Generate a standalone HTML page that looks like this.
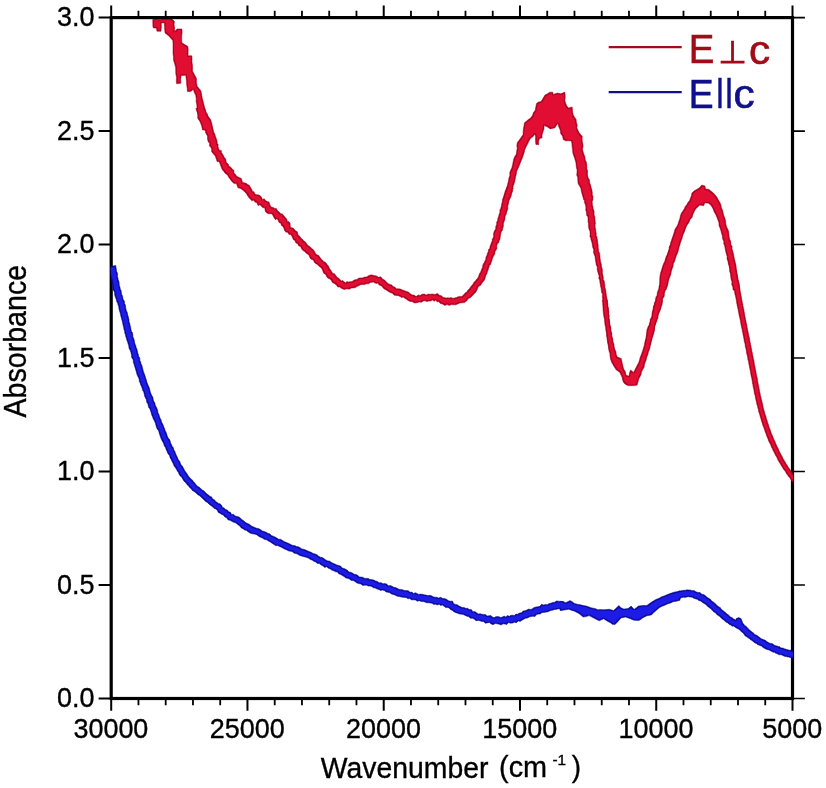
<!DOCTYPE html>
<html lang="en"><head><meta charset="utf-8"><title>Absorbance spectra</title>
<style>html,body{margin:0;padding:0;background:#fff}svg{display:block}</style>
</head><body>
<svg width="826" height="788" viewBox="0 0 826 788">
<rect width="826" height="788" fill="#fff"/>
<rect x="111.2" y="17.6" width="681.3" height="680.9" fill="none" stroke="#000" stroke-width="3.2"/>
<path d="M111.20,17.6 v-12.2 M111.20,698.5 v12.2 M247.46,17.6 v-12.2 M247.46,698.5 v12.2 M383.72,17.6 v-12.2 M383.72,698.5 v12.2 M519.98,17.6 v-12.2 M519.98,698.5 v12.2 M656.24,17.6 v-12.2 M656.24,698.5 v12.2 M792.50,17.6 v-12.2 M792.50,698.5 v12.2 M111.2,17.60 h-12.6 M111.2,131.08 h-12.6 M111.2,244.57 h-12.6 M111.2,358.05 h-12.6 M111.2,471.53 h-12.6 M111.2,585.02 h-12.6 M111.2,698.50 h-12.6" stroke="#000" stroke-width="2" fill="none"/>
<path d="M138.45,17.6 v-6.8 M138.45,698.5 v6.8 M165.70,17.6 v-6.8 M165.70,698.5 v6.8 M192.96,17.6 v-6.8 M192.96,698.5 v6.8 M220.21,17.6 v-6.8 M220.21,698.5 v6.8 M274.71,17.6 v-6.8 M274.71,698.5 v6.8 M301.96,17.6 v-6.8 M301.96,698.5 v6.8 M329.22,17.6 v-6.8 M329.22,698.5 v6.8 M356.47,17.6 v-6.8 M356.47,698.5 v6.8 M410.97,17.6 v-6.8 M410.97,698.5 v6.8 M438.22,17.6 v-6.8 M438.22,698.5 v6.8 M465.48,17.6 v-6.8 M465.48,698.5 v6.8 M492.73,17.6 v-6.8 M492.73,698.5 v6.8 M547.23,17.6 v-6.8 M547.23,698.5 v6.8 M574.48,17.6 v-6.8 M574.48,698.5 v6.8 M601.74,17.6 v-6.8 M601.74,698.5 v6.8 M628.99,17.6 v-6.8 M628.99,698.5 v6.8 M683.49,17.6 v-6.8 M683.49,698.5 v6.8 M710.74,17.6 v-6.8 M710.74,698.5 v6.8 M738.00,17.6 v-6.8 M738.00,698.5 v6.8 M765.25,17.6 v-6.8 M765.25,698.5 v6.8" stroke="#000" stroke-width="1.8" fill="none"/>
<path d="M792.5,17.60 h12.4 M792.5,131.08 h12.4 M792.5,244.57 h12.4 M792.5,358.05 h12.4 M792.5,471.53 h12.4 M792.5,585.02 h12.4 M792.5,698.50 h12.4" stroke="#000" stroke-width="1.6" fill="none"/>
<clipPath id="cp"><rect x="110.60000000000001" y="19.1" width="682.5" height="680.9"/></clipPath>
<filter id="er" x="0" y="0" width="826" height="788" filterUnits="userSpaceOnUse"><feMorphology operator="erode" radius="1"/><feGaussianBlur stdDeviation="0.45"/></filter>
<g clip-path="url(#cp)" stroke-linejoin="round">
<g fill="#0a0a98" stroke="#0a0a98" stroke-width="0.5"><path d="M108.6,266.9 L109.0,268.6 L109.4,270.1 L110.0,272.5 L110.0,273.6 L110.2,275.4 L110.8,277.9 L111.2,279.0 L111.7,281.0 L112.0,283.1 L112.3,285.1 L112.8,287.1 L112.9,289.5 L113.8,290.9 L114.5,292.3 L114.6,294.4 L115.2,296.8 L115.7,297.9 L116.5,300.4 L116.8,301.9 L117.6,303.1 L118.2,305.6 L118.7,306.6 L118.9,308.6 L119.3,310.4 L120.1,312.7 L120.4,314.1 L120.9,316.5 L121.3,317.7 L121.9,320.0 L122.3,321.4 L122.7,323.4 L123.0,325.0 L123.6,327.3 L124.0,329.6 L124.6,331.3 L124.8,333.3 L125.3,334.3 L125.7,336.2 L126.4,338.4 L126.7,339.7 L127.6,342.2 L128.1,344.0 L128.8,345.9 L128.9,347.7 L129.4,349.2 L130.3,350.6 L130.9,352.5 L131.5,354.9 L131.6,357.2 L132.4,358.8 L133.2,359.8 L133.3,362.5 L134.1,364.2 L134.4,365.8 L135.1,367.8 L135.7,369.9 L136.4,371.9 L136.8,373.9 L137.4,375.6 L138.3,377.3 L139.1,379.1 L139.3,381.5 L140.0,382.7 L140.6,384.7 L141.6,386.8 L142.2,388.5 L142.7,390.5 L143.7,392.0 L144.3,394.4 L144.8,396.7 L145.7,398.5 L146.3,399.6 L146.8,402.4 L147.8,403.7 L148.2,405.6 L148.8,407.7 L149.8,408.8 L150.5,410.7 L151.2,412.9 L151.8,415.3 L152.3,416.2 L153.2,418.7 L154.2,420.6 L154.9,422.1 L155.5,423.7 L156.1,426.0 L156.7,428.0 L157.7,429.7 L158.6,430.8 L159.2,433.2 L159.7,434.7 L160.4,436.8 L161.1,438.8 L162.0,440.7 L162.8,441.9 L163.7,443.7 L164.3,446.0 L165.5,447.5 L166.1,449.5 L166.7,450.7 L167.7,453.2 L168.4,454.2 L169.6,455.8 L170.1,457.9 L170.9,459.0 L172.0,461.4 L172.9,463.0 L173.5,464.5 L174.2,466.3 L175.6,468.0 L176.4,469.3 L177.3,471.1 L178.4,472.5 L179.2,474.5 L180.2,476.1 L181.6,477.1 L182.5,478.7 L183.7,480.7 L184.8,482.0 L186.2,483.2 L187.0,484.7 L188.4,485.8 L189.6,487.5 L191.1,488.7 L192.3,490.4 L194.0,491.4 L195.1,492.2 L196.5,493.5 L198.1,494.9 L199.6,495.7 L201.2,497.3 L202.9,498.7 L204.3,500.3 L205.8,501.7 L207.1,502.2 L208.7,503.9 L210.1,505.0 L211.5,506.1 L212.9,507.1 L214.2,508.5 L215.6,508.9 L217.1,509.9 L218.3,512.5 L219.9,513.2 L221.7,514.4 L223.3,515.0 L224.8,516.9 L226.6,517.7 L228.2,520.1 L230.1,520.2 L232.1,521.6 L233.8,522.3 L235.3,522.8 L236.8,523.8 L238.3,525.0 L239.8,526.1 L241.2,527.9 L242.9,528.7 L244.6,529.9 L246.5,530.6 L248.4,532.1 L250.4,533.2 L252.3,533.8 L254.3,534.1 L256.1,534.4 L257.7,535.6 L259.3,536.8 L261.1,537.4 L262.7,538.3 L264.6,539.6 L266.5,539.8 L268.4,541.0 L270.2,541.9 L272.0,543.2 L273.9,544.4 L275.8,545.7 L277.6,545.4 L279.4,546.4 L281.3,547.3 L283.1,548.3 L284.9,549.2 L286.8,549.9 L288.7,551.0 L290.6,551.3 L292.4,551.8 L294.1,553.3 L296.0,553.6 L297.8,554.3 L299.6,555.4 L301.4,556.0 L303.2,556.6 L305.1,557.0 L306.9,557.5 L308.7,558.3 L310.3,559.4 L312.1,560.1 L313.7,561.2 L315.7,562.0 L317.3,563.4 L319.3,563.5 L321.0,564.9 L323.0,565.9 L324.7,567.4 L326.7,566.8 L328.4,568.3 L330.3,569.0 L332.0,570.3 L333.8,570.8 L335.5,571.8 L337.4,572.1 L338.9,573.9 L340.7,574.4 L342.2,575.5 L344.0,576.4 L345.8,578.0 L347.4,578.3 L349.4,579.0 L351.3,580.5 L353.2,580.6 L355.0,581.5 L356.9,583.0 L358.8,583.6 L360.8,584.0 L362.8,585.5 L364.7,585.2 L366.6,585.2 L368.3,586.1 L370.0,586.1 L371.7,586.6 L373.4,587.8 L375.2,588.0 L377.0,589.0 L378.8,589.4 L380.6,590.6 L382.4,590.1 L384.3,590.6 L386.2,592.1 L387.9,592.3 L389.8,592.8 L391.5,594.0 L393.3,594.6 L395.3,595.2 L397.2,596.2 L399.2,596.6 L401.0,597.0 L402.8,597.3 L404.4,597.5 L406.2,597.4 L407.9,598.8 L409.7,598.6 L411.7,599.9 L413.5,599.8 L415.5,600.0 L417.3,601.3 L419.3,600.7 L421.1,601.5 L423.0,601.5 L424.8,602.0 L426.6,602.8 L428.4,602.8 L430.2,603.0 L432.0,603.3 L433.8,604.5 L435.6,604.2 L437.4,605.0 L439.1,604.2 L440.7,605.6 L442.4,605.1 L444.0,606.2 L445.6,607.4 L447.5,607.6 L448.9,607.9 L450.8,609.7 L452.5,610.5 L453.8,611.7 L455.9,612.7 L457.6,613.3 L459.7,614.1 L461.6,614.2 L463.4,614.6 L465.2,615.4 L466.9,616.2 L468.8,616.7 L470.5,618.3 L472.3,618.2 L474.2,619.0 L476.0,620.8 L478.0,620.4 L479.9,620.8 L481.7,621.4 L483.5,621.6 L485.4,623.3 L487.2,622.9 L489.2,622.4 L491.2,623.9 L493.1,624.8 L495.2,623.5 L497.2,623.8 L499.1,624.2 L501.1,625.1 L503.0,623.8 L504.9,624.0 L506.8,624.5 L508.6,622.6 L510.5,623.2 L512.6,623.1 L514.4,622.3 L516.5,622.7 L518.3,620.9 L520.3,621.4 L522.0,620.2 L523.8,619.2 L525.6,618.2 L527.5,618.1 L529.1,617.1 L531.3,616.5 L533.0,616.3 L535.0,616.6 L536.6,614.6 L538.6,614.1 L540.3,614.0 L541.8,612.7 L543.7,612.4 L545.3,612.2 L547.0,612.0 L548.8,611.4 L550.6,610.5 L552.5,610.3 L554.5,609.6 L556.1,609.4 L557.8,608.9 L559.2,608.8 L560.9,609.6 L562.6,609.7 L563.4,601.4 L561.1,601.5 L558.9,601.2 L556.6,600.9 L554.5,602.2 L552.6,602.4 L550.8,603.2 L549.1,603.6 L547.3,604.7 L545.4,604.6 L543.5,604.9 L541.5,604.3 L539.8,606.3 L537.9,606.8 L536.0,606.9 L534.0,607.6 L532.1,608.9 L530.5,609.4 L528.7,609.1 L526.8,609.9 L525.1,610.8 L523.2,610.9 L521.5,612.7 L519.4,613.1 L517.6,614.2 L515.9,614.0 L514.3,615.6 L512.6,615.2 L510.9,615.3 L509.3,616.3 L507.6,615.5 L505.8,616.9 L504.1,616.1 L502.5,616.9 L500.7,617.5 L499.0,616.7 L497.3,616.5 L495.6,616.8 L494.0,617.8 L492.4,617.0 L490.8,615.4 L488.9,615.8 L487.3,615.9 L485.4,614.5 L483.6,614.4 L481.9,614.2 L480.2,613.7 L478.4,613.9 L476.6,612.7 L474.8,611.4 L472.9,611.7 L471.3,609.5 L469.2,609.5 L467.6,608.3 L465.6,608.3 L464.0,607.4 L462.2,607.6 L460.4,606.6 L459.0,606.1 L457.3,604.8 L455.7,604.4 L453.9,603.9 L452.4,601.0 L450.5,601.2 L448.5,600.7 L446.6,599.3 L444.6,598.6 L442.7,598.5 L440.7,597.3 L438.7,598.1 L436.8,597.2 L435.0,597.3 L433.2,596.7 L431.5,595.7 L429.6,595.3 L427.8,595.6 L425.9,595.0 L424.1,594.8 L422.3,594.3 L420.5,594.1 L418.7,594.4 L417.0,593.4 L415.4,592.7 L413.6,593.5 L411.9,592.1 L410.1,592.3 L408.3,590.7 L406.3,590.6 L404.3,590.4 L402.5,589.7 L400.7,589.4 L398.9,589.2 L397.3,588.3 L395.6,587.6 L393.8,587.3 L392.1,586.2 L390.3,585.5 L388.4,585.7 L386.6,584.1 L384.8,583.4 L383.0,583.7 L381.1,582.7 L379.2,582.8 L377.5,581.5 L375.7,581.0 L373.8,580.1 L371.8,579.6 L369.9,579.6 L368.0,578.3 L366.1,578.4 L364.4,578.3 L362.7,577.2 L361.1,577.1 L359.3,576.9 L357.7,575.2 L356.0,574.5 L354.2,574.3 L352.4,572.9 L350.6,572.2 L349.0,572.1 L347.4,570.3 L345.8,569.3 L344.1,568.5 L342.2,568.0 L340.6,566.1 L338.8,565.5 L336.8,564.9 L335.0,564.1 L333.1,563.3 L331.2,562.3 L329.4,561.0 L327.8,560.9 L325.9,560.1 L324.2,558.8 L322.4,557.6 L320.6,557.2 L318.7,556.3 L317.0,554.7 L315.1,553.9 L313.1,553.4 L311.2,552.3 L309.2,551.6 L307.4,550.8 L305.6,549.9 L303.8,549.3 L301.9,548.9 L300.1,547.7 L298.4,546.8 L296.6,546.6 L294.8,545.6 L293.0,545.4 L291.3,544.8 L289.5,543.8 L287.8,543.1 L286.1,542.3 L284.1,541.5 L282.2,540.3 L280.5,539.2 L278.7,539.3 L276.9,538.1 L275.1,537.0 L273.2,536.2 L271.4,535.4 L269.8,533.8 L268.1,533.4 L266.2,532.2 L264.3,531.5 L262.4,530.9 L260.4,529.6 L258.5,528.6 L256.6,528.2 L254.9,527.5 L253.2,526.8 L251.4,526.0 L249.8,524.4 L248.1,523.7 L246.5,523.0 L245.1,522.1 L243.7,520.7 L242.0,519.8 L240.6,518.2 L239.0,516.9 L237.1,516.5 L235.2,515.9 L233.5,514.2 L231.7,514.5 L230.4,512.2 L228.7,511.7 L227.3,509.9 L225.5,509.5 L224.2,507.9 L222.6,507.4 L221.4,504.9 L220.0,503.8 L218.6,503.4 L216.9,502.3 L215.5,501.2 L214.4,499.8 L212.7,498.9 L211.5,496.8 L210.1,496.4 L208.5,495.1 L206.8,493.8 L205.3,492.3 L203.8,490.8 L202.3,490.0 L200.7,488.6 L199.4,487.2 L198.1,486.7 L196.8,485.4 L195.5,484.1 L194.6,482.7 L193.2,481.5 L192.5,480.1 L191.2,479.2 L190.1,477.9 L189.0,476.7 L187.7,474.9 L186.9,473.4 L185.9,472.2 L184.8,470.8 L183.9,469.0 L183.1,467.4 L182.2,465.8 L181.1,464.9 L180.3,463.0 L179.7,461.2 L178.5,460.0 L177.8,458.4 L176.8,456.0 L176.2,454.9 L175.4,453.0 L174.8,451.2 L174.0,450.2 L173.3,447.6 L172.4,446.7 L171.6,444.7 L170.7,443.2 L170.1,440.8 L169.3,439.1 L168.1,438.0 L167.3,436.1 L166.7,434.1 L166.0,432.0 L165.2,430.7 L164.5,428.3 L163.8,427.1 L163.3,425.2 L162.4,423.5 L161.4,421.4 L161.1,419.7 L160.1,418.3 L159.5,416.3 L158.6,413.8 L158.0,413.0 L157.7,410.4 L156.9,408.3 L156.0,406.5 L155.3,405.3 L154.9,403.1 L153.9,401.5 L153.3,399.9 L152.9,397.2 L152.1,396.1 L151.3,394.3 L150.4,392.2 L149.8,389.8 L149.4,388.0 L148.6,386.2 L147.9,384.6 L147.0,382.5 L146.6,380.5 L146.1,379.3 L145.4,377.0 L144.8,375.1 L144.2,373.4 L143.5,371.7 L143.0,369.8 L142.5,367.8 L142.0,365.7 L141.0,363.8 L140.8,362.2 L139.9,360.5 L139.8,357.8 L138.8,356.8 L138.5,355.1 L137.8,353.0 L137.3,350.6 L136.8,348.7 L136.1,347.2 L135.8,345.6 L135.0,344.0 L134.5,342.1 L134.3,340.3 L133.4,337.8 L132.9,336.7 L132.8,334.3 L132.4,332.5 L131.5,331.5 L131.0,329.7 L130.8,327.9 L130.2,325.7 L129.7,323.3 L129.1,321.8 L129.0,319.7 L128.7,318.3 L128.1,316.0 L127.7,314.8 L127.3,312.4 L126.5,311.1 L125.9,308.8 L125.6,306.9 L125.4,304.9 L124.6,303.8 L124.4,301.1 L123.5,300.0 L122.9,298.5 L122.5,295.8 L121.8,294.9 L121.4,292.4 L121.1,290.4 L120.3,289.2 L120.1,287.7 L119.4,285.6 L119.2,283.6 L119.0,281.7 L118.2,279.7 L117.9,277.7 L117.5,276.5 L117.6,273.9 L117.1,272.2 L116.5,271.2 L116.3,268.7 L115.9,267.2 L115.8,265.4Z"/><path d="M560.0,601.3 L563.1,601.7 L565.9,602.7 L570.0,600.6 L572.2,601.7 L574.5,603.4 L577.2,604.2 L580.5,604.8 L583.5,605.6 L586.3,606.1 L589.0,606.9 L591.8,607.9 L595.0,608.5 L597.8,609.8 L600.5,609.6 L603.6,609.7 L606.5,609.5 L609.3,609.3 L613.6,610.5 L616.8,607.6 L618.8,605.5 L621.0,607.7 L623.9,609.1 L628.1,608.5 L631.1,606.1 L634.1,609.3 L636.4,607.7 L638.4,606.1 L642.9,605.5 L647.0,605.4 L649.1,603.8 L651.7,602.0 L655.8,599.6 L659.1,598.2 L661.6,596.8 L664.7,595.7 L667.5,594.5 L670.4,593.5 L673.4,592.4 L676.6,591.9 L679.9,590.8 L679.9,594.1 L680.2,597.2 L680.0,600.3 L676.3,601.3 L673.2,601.7 L670.6,603.0 L667.3,604.1 L664.4,605.4 L661.6,606.4 L658.9,608.1 L655.9,610.8 L653.8,612.5 L651.5,614.9 L647.0,615.7 L642.9,617.8 L640.7,619.6 L638.6,620.6 L633.9,620.2 L629.7,618.5 L625.5,617.1 L621.1,617.9 L618.0,621.5 L615.1,624.5 L612.2,624.3 L610.4,622.8 L607.9,621.5 L605.4,619.9 L603.7,618.8 L599.2,620.8 L594.7,618.6 L591.9,617.1 L589.0,615.6 L586.4,616.6 L583.2,617.0 L580.8,615.0 L578.8,613.5 L574.5,611.2 L571.9,610.4 L568.8,609.3 L564.3,610.0 L560.2,610.7 L559.7,607.7 L560.3,604.0Z"/><path d="M669.5,602.1 L670.7,601.8 L672.0,600.6 L673.4,600.1 L674.7,599.7 L676.0,599.2 L677.4,598.7 L678.6,598.9 L679.8,598.6 L680.9,598.1 L682.1,597.6 L683.3,597.2 L684.6,597.6 L685.9,597.3 L687.1,596.9 L688.3,596.7 L689.4,597.0 L690.6,597.1 L691.7,597.2 L692.8,597.5 L693.9,598.4 L695.0,598.6 L696.1,599.2 L697.2,599.0 L698.3,600.3 L699.5,600.7 L700.5,601.0 L701.8,601.9 L702.9,602.7 L704.0,603.5 L705.0,604.0 L706.2,604.7 L707.1,606.0 L708.1,606.7 L709.0,607.5 L710.3,608.4 L711.3,609.2 L712.4,610.6 L713.2,611.5 L714.4,612.3 L715.4,612.8 L716.6,614.3 L717.6,615.3 L718.7,615.8 L719.7,616.6 L720.8,617.6 L721.9,618.7 L722.9,619.4 L724.0,620.3 L725.0,621.2 L726.2,622.3 L727.4,622.7 L728.4,623.7 L729.7,624.8 L730.8,625.1 L732.1,626.3 L733.5,626.1 L734.8,627.0 L736.0,627.8 L737.2,628.6 L738.2,629.0 L739.2,629.5 L740.2,630.4 L740.9,631.2 L741.8,632.2 L743.1,632.9 L744.2,634.5 L745.1,635.9 L746.3,636.5 L747.5,637.6 L748.7,638.1 L749.9,639.3 L751.2,640.1 L752.5,640.9 L753.7,641.9 L754.9,642.9 L756.4,643.5 L757.6,644.7 L758.9,645.0 L760.3,645.7 L761.5,646.1 L762.7,647.2 L764.0,648.1 L765.3,648.8 L766.7,649.4 L767.9,649.7 L769.2,650.1 L770.6,650.9 L771.9,651.5 L773.1,652.3 L774.5,652.3 L775.7,653.3 L777.0,653.5 L778.3,654.5 L779.7,654.8 L781.0,654.7 L782.4,655.3 L783.6,655.9 L784.9,656.4 L786.2,656.5 L787.5,657.1 L788.7,657.0 L790.0,657.5 L791.3,657.7 L792.5,658.4 L793.9,658.3 L795.2,658.2 L796.7,651.6 L795.5,651.3 L794.2,651.4 L792.9,650.8 L791.6,650.9 L790.5,650.0 L789.2,650.2 L787.9,649.7 L786.8,649.5 L785.5,649.0 L784.3,648.7 L783.1,648.0 L781.9,648.1 L780.7,647.7 L779.5,646.6 L778.3,646.5 L777.0,645.9 L775.8,645.7 L774.5,645.2 L773.4,644.5 L772.2,643.6 L770.9,643.4 L769.8,643.2 L768.5,642.6 L767.2,641.8 L766.1,640.9 L764.9,640.1 L763.7,639.7 L762.3,639.0 L761.1,638.7 L759.9,637.6 L758.7,636.7 L757.5,635.7 L756.3,635.0 L755.0,634.7 L754.1,633.7 L753.1,632.5 L752.0,632.2 L751.1,631.1 L750.1,630.6 L749.1,629.6 L747.9,628.3 L747.0,627.3 L746.0,626.2 L744.7,625.4 L743.5,623.8 L741.9,622.9 L740.5,622.1 L738.9,621.4 L737.7,620.6 L736.6,619.8 L735.3,620.2 L734.3,619.0 L733.3,619.0 L732.4,617.7 L731.2,617.3 L730.3,616.9 L729.2,615.6 L728.3,614.9 L727.3,613.9 L726.4,613.4 L725.3,612.3 L724.1,611.5 L723.1,610.6 L722.2,610.0 L721.2,609.0 L720.2,607.4 L718.9,607.1 L718.0,606.1 L716.9,605.5 L715.8,604.0 L714.8,603.2 L713.7,602.2 L712.6,601.6 L711.5,600.8 L710.6,599.4 L709.3,598.6 L708.1,598.0 L706.9,597.0 L705.6,596.1 L704.3,594.8 L702.9,594.5 L701.4,594.0 L700.1,592.5 L698.7,592.5 L697.2,592.3 L695.9,591.7 L694.5,590.8 L693.0,590.6 L691.6,590.4 L690.2,590.0 L688.7,589.9 L687.1,589.8 L685.5,590.2 L683.8,590.3 L682.3,590.6 L680.8,590.8 L679.3,591.2 L677.9,591.9 L676.5,592.0 L675.0,591.9 L673.6,593.0 L672.1,593.1 L670.7,593.8 L669.3,594.2 L668.0,595.6 L666.5,595.5Z"/><path d="M735.2,622.0 L736.2,618.6 L738.6,617.6 L741.0,618.6 L742.4,622.0 L743.5,628.0 L738.0,626.0Z"/></g>
<g fill="#1c1ce6" filter="url(#er)"><path d="M108.6,266.9 L109.0,268.6 L109.4,270.1 L110.0,272.5 L110.0,273.6 L110.2,275.4 L110.8,277.9 L111.2,279.0 L111.7,281.0 L112.0,283.1 L112.3,285.1 L112.8,287.1 L112.9,289.5 L113.8,290.9 L114.5,292.3 L114.6,294.4 L115.2,296.8 L115.7,297.9 L116.5,300.4 L116.8,301.9 L117.6,303.1 L118.2,305.6 L118.7,306.6 L118.9,308.6 L119.3,310.4 L120.1,312.7 L120.4,314.1 L120.9,316.5 L121.3,317.7 L121.9,320.0 L122.3,321.4 L122.7,323.4 L123.0,325.0 L123.6,327.3 L124.0,329.6 L124.6,331.3 L124.8,333.3 L125.3,334.3 L125.7,336.2 L126.4,338.4 L126.7,339.7 L127.6,342.2 L128.1,344.0 L128.8,345.9 L128.9,347.7 L129.4,349.2 L130.3,350.6 L130.9,352.5 L131.5,354.9 L131.6,357.2 L132.4,358.8 L133.2,359.8 L133.3,362.5 L134.1,364.2 L134.4,365.8 L135.1,367.8 L135.7,369.9 L136.4,371.9 L136.8,373.9 L137.4,375.6 L138.3,377.3 L139.1,379.1 L139.3,381.5 L140.0,382.7 L140.6,384.7 L141.6,386.8 L142.2,388.5 L142.7,390.5 L143.7,392.0 L144.3,394.4 L144.8,396.7 L145.7,398.5 L146.3,399.6 L146.8,402.4 L147.8,403.7 L148.2,405.6 L148.8,407.7 L149.8,408.8 L150.5,410.7 L151.2,412.9 L151.8,415.3 L152.3,416.2 L153.2,418.7 L154.2,420.6 L154.9,422.1 L155.5,423.7 L156.1,426.0 L156.7,428.0 L157.7,429.7 L158.6,430.8 L159.2,433.2 L159.7,434.7 L160.4,436.8 L161.1,438.8 L162.0,440.7 L162.8,441.9 L163.7,443.7 L164.3,446.0 L165.5,447.5 L166.1,449.5 L166.7,450.7 L167.7,453.2 L168.4,454.2 L169.6,455.8 L170.1,457.9 L170.9,459.0 L172.0,461.4 L172.9,463.0 L173.5,464.5 L174.2,466.3 L175.6,468.0 L176.4,469.3 L177.3,471.1 L178.4,472.5 L179.2,474.5 L180.2,476.1 L181.6,477.1 L182.5,478.7 L183.7,480.7 L184.8,482.0 L186.2,483.2 L187.0,484.7 L188.4,485.8 L189.6,487.5 L191.1,488.7 L192.3,490.4 L194.0,491.4 L195.1,492.2 L196.5,493.5 L198.1,494.9 L199.6,495.7 L201.2,497.3 L202.9,498.7 L204.3,500.3 L205.8,501.7 L207.1,502.2 L208.7,503.9 L210.1,505.0 L211.5,506.1 L212.9,507.1 L214.2,508.5 L215.6,508.9 L217.1,509.9 L218.3,512.5 L219.9,513.2 L221.7,514.4 L223.3,515.0 L224.8,516.9 L226.6,517.7 L228.2,520.1 L230.1,520.2 L232.1,521.6 L233.8,522.3 L235.3,522.8 L236.8,523.8 L238.3,525.0 L239.8,526.1 L241.2,527.9 L242.9,528.7 L244.6,529.9 L246.5,530.6 L248.4,532.1 L250.4,533.2 L252.3,533.8 L254.3,534.1 L256.1,534.4 L257.7,535.6 L259.3,536.8 L261.1,537.4 L262.7,538.3 L264.6,539.6 L266.5,539.8 L268.4,541.0 L270.2,541.9 L272.0,543.2 L273.9,544.4 L275.8,545.7 L277.6,545.4 L279.4,546.4 L281.3,547.3 L283.1,548.3 L284.9,549.2 L286.8,549.9 L288.7,551.0 L290.6,551.3 L292.4,551.8 L294.1,553.3 L296.0,553.6 L297.8,554.3 L299.6,555.4 L301.4,556.0 L303.2,556.6 L305.1,557.0 L306.9,557.5 L308.7,558.3 L310.3,559.4 L312.1,560.1 L313.7,561.2 L315.7,562.0 L317.3,563.4 L319.3,563.5 L321.0,564.9 L323.0,565.9 L324.7,567.4 L326.7,566.8 L328.4,568.3 L330.3,569.0 L332.0,570.3 L333.8,570.8 L335.5,571.8 L337.4,572.1 L338.9,573.9 L340.7,574.4 L342.2,575.5 L344.0,576.4 L345.8,578.0 L347.4,578.3 L349.4,579.0 L351.3,580.5 L353.2,580.6 L355.0,581.5 L356.9,583.0 L358.8,583.6 L360.8,584.0 L362.8,585.5 L364.7,585.2 L366.6,585.2 L368.3,586.1 L370.0,586.1 L371.7,586.6 L373.4,587.8 L375.2,588.0 L377.0,589.0 L378.8,589.4 L380.6,590.6 L382.4,590.1 L384.3,590.6 L386.2,592.1 L387.9,592.3 L389.8,592.8 L391.5,594.0 L393.3,594.6 L395.3,595.2 L397.2,596.2 L399.2,596.6 L401.0,597.0 L402.8,597.3 L404.4,597.5 L406.2,597.4 L407.9,598.8 L409.7,598.6 L411.7,599.9 L413.5,599.8 L415.5,600.0 L417.3,601.3 L419.3,600.7 L421.1,601.5 L423.0,601.5 L424.8,602.0 L426.6,602.8 L428.4,602.8 L430.2,603.0 L432.0,603.3 L433.8,604.5 L435.6,604.2 L437.4,605.0 L439.1,604.2 L440.7,605.6 L442.4,605.1 L444.0,606.2 L445.6,607.4 L447.5,607.6 L448.9,607.9 L450.8,609.7 L452.5,610.5 L453.8,611.7 L455.9,612.7 L457.6,613.3 L459.7,614.1 L461.6,614.2 L463.4,614.6 L465.2,615.4 L466.9,616.2 L468.8,616.7 L470.5,618.3 L472.3,618.2 L474.2,619.0 L476.0,620.8 L478.0,620.4 L479.9,620.8 L481.7,621.4 L483.5,621.6 L485.4,623.3 L487.2,622.9 L489.2,622.4 L491.2,623.9 L493.1,624.8 L495.2,623.5 L497.2,623.8 L499.1,624.2 L501.1,625.1 L503.0,623.8 L504.9,624.0 L506.8,624.5 L508.6,622.6 L510.5,623.2 L512.6,623.1 L514.4,622.3 L516.5,622.7 L518.3,620.9 L520.3,621.4 L522.0,620.2 L523.8,619.2 L525.6,618.2 L527.5,618.1 L529.1,617.1 L531.3,616.5 L533.0,616.3 L535.0,616.6 L536.6,614.6 L538.6,614.1 L540.3,614.0 L541.8,612.7 L543.7,612.4 L545.3,612.2 L547.0,612.0 L548.8,611.4 L550.6,610.5 L552.5,610.3 L554.5,609.6 L556.1,609.4 L557.8,608.9 L559.2,608.8 L560.9,609.6 L562.6,609.7 L563.4,601.4 L561.1,601.5 L558.9,601.2 L556.6,600.9 L554.5,602.2 L552.6,602.4 L550.8,603.2 L549.1,603.6 L547.3,604.7 L545.4,604.6 L543.5,604.9 L541.5,604.3 L539.8,606.3 L537.9,606.8 L536.0,606.9 L534.0,607.6 L532.1,608.9 L530.5,609.4 L528.7,609.1 L526.8,609.9 L525.1,610.8 L523.2,610.9 L521.5,612.7 L519.4,613.1 L517.6,614.2 L515.9,614.0 L514.3,615.6 L512.6,615.2 L510.9,615.3 L509.3,616.3 L507.6,615.5 L505.8,616.9 L504.1,616.1 L502.5,616.9 L500.7,617.5 L499.0,616.7 L497.3,616.5 L495.6,616.8 L494.0,617.8 L492.4,617.0 L490.8,615.4 L488.9,615.8 L487.3,615.9 L485.4,614.5 L483.6,614.4 L481.9,614.2 L480.2,613.7 L478.4,613.9 L476.6,612.7 L474.8,611.4 L472.9,611.7 L471.3,609.5 L469.2,609.5 L467.6,608.3 L465.6,608.3 L464.0,607.4 L462.2,607.6 L460.4,606.6 L459.0,606.1 L457.3,604.8 L455.7,604.4 L453.9,603.9 L452.4,601.0 L450.5,601.2 L448.5,600.7 L446.6,599.3 L444.6,598.6 L442.7,598.5 L440.7,597.3 L438.7,598.1 L436.8,597.2 L435.0,597.3 L433.2,596.7 L431.5,595.7 L429.6,595.3 L427.8,595.6 L425.9,595.0 L424.1,594.8 L422.3,594.3 L420.5,594.1 L418.7,594.4 L417.0,593.4 L415.4,592.7 L413.6,593.5 L411.9,592.1 L410.1,592.3 L408.3,590.7 L406.3,590.6 L404.3,590.4 L402.5,589.7 L400.7,589.4 L398.9,589.2 L397.3,588.3 L395.6,587.6 L393.8,587.3 L392.1,586.2 L390.3,585.5 L388.4,585.7 L386.6,584.1 L384.8,583.4 L383.0,583.7 L381.1,582.7 L379.2,582.8 L377.5,581.5 L375.7,581.0 L373.8,580.1 L371.8,579.6 L369.9,579.6 L368.0,578.3 L366.1,578.4 L364.4,578.3 L362.7,577.2 L361.1,577.1 L359.3,576.9 L357.7,575.2 L356.0,574.5 L354.2,574.3 L352.4,572.9 L350.6,572.2 L349.0,572.1 L347.4,570.3 L345.8,569.3 L344.1,568.5 L342.2,568.0 L340.6,566.1 L338.8,565.5 L336.8,564.9 L335.0,564.1 L333.1,563.3 L331.2,562.3 L329.4,561.0 L327.8,560.9 L325.9,560.1 L324.2,558.8 L322.4,557.6 L320.6,557.2 L318.7,556.3 L317.0,554.7 L315.1,553.9 L313.1,553.4 L311.2,552.3 L309.2,551.6 L307.4,550.8 L305.6,549.9 L303.8,549.3 L301.9,548.9 L300.1,547.7 L298.4,546.8 L296.6,546.6 L294.8,545.6 L293.0,545.4 L291.3,544.8 L289.5,543.8 L287.8,543.1 L286.1,542.3 L284.1,541.5 L282.2,540.3 L280.5,539.2 L278.7,539.3 L276.9,538.1 L275.1,537.0 L273.2,536.2 L271.4,535.4 L269.8,533.8 L268.1,533.4 L266.2,532.2 L264.3,531.5 L262.4,530.9 L260.4,529.6 L258.5,528.6 L256.6,528.2 L254.9,527.5 L253.2,526.8 L251.4,526.0 L249.8,524.4 L248.1,523.7 L246.5,523.0 L245.1,522.1 L243.7,520.7 L242.0,519.8 L240.6,518.2 L239.0,516.9 L237.1,516.5 L235.2,515.9 L233.5,514.2 L231.7,514.5 L230.4,512.2 L228.7,511.7 L227.3,509.9 L225.5,509.5 L224.2,507.9 L222.6,507.4 L221.4,504.9 L220.0,503.8 L218.6,503.4 L216.9,502.3 L215.5,501.2 L214.4,499.8 L212.7,498.9 L211.5,496.8 L210.1,496.4 L208.5,495.1 L206.8,493.8 L205.3,492.3 L203.8,490.8 L202.3,490.0 L200.7,488.6 L199.4,487.2 L198.1,486.7 L196.8,485.4 L195.5,484.1 L194.6,482.7 L193.2,481.5 L192.5,480.1 L191.2,479.2 L190.1,477.9 L189.0,476.7 L187.7,474.9 L186.9,473.4 L185.9,472.2 L184.8,470.8 L183.9,469.0 L183.1,467.4 L182.2,465.8 L181.1,464.9 L180.3,463.0 L179.7,461.2 L178.5,460.0 L177.8,458.4 L176.8,456.0 L176.2,454.9 L175.4,453.0 L174.8,451.2 L174.0,450.2 L173.3,447.6 L172.4,446.7 L171.6,444.7 L170.7,443.2 L170.1,440.8 L169.3,439.1 L168.1,438.0 L167.3,436.1 L166.7,434.1 L166.0,432.0 L165.2,430.7 L164.5,428.3 L163.8,427.1 L163.3,425.2 L162.4,423.5 L161.4,421.4 L161.1,419.7 L160.1,418.3 L159.5,416.3 L158.6,413.8 L158.0,413.0 L157.7,410.4 L156.9,408.3 L156.0,406.5 L155.3,405.3 L154.9,403.1 L153.9,401.5 L153.3,399.9 L152.9,397.2 L152.1,396.1 L151.3,394.3 L150.4,392.2 L149.8,389.8 L149.4,388.0 L148.6,386.2 L147.9,384.6 L147.0,382.5 L146.6,380.5 L146.1,379.3 L145.4,377.0 L144.8,375.1 L144.2,373.4 L143.5,371.7 L143.0,369.8 L142.5,367.8 L142.0,365.7 L141.0,363.8 L140.8,362.2 L139.9,360.5 L139.8,357.8 L138.8,356.8 L138.5,355.1 L137.8,353.0 L137.3,350.6 L136.8,348.7 L136.1,347.2 L135.8,345.6 L135.0,344.0 L134.5,342.1 L134.3,340.3 L133.4,337.8 L132.9,336.7 L132.8,334.3 L132.4,332.5 L131.5,331.5 L131.0,329.7 L130.8,327.9 L130.2,325.7 L129.7,323.3 L129.1,321.8 L129.0,319.7 L128.7,318.3 L128.1,316.0 L127.7,314.8 L127.3,312.4 L126.5,311.1 L125.9,308.8 L125.6,306.9 L125.4,304.9 L124.6,303.8 L124.4,301.1 L123.5,300.0 L122.9,298.5 L122.5,295.8 L121.8,294.9 L121.4,292.4 L121.1,290.4 L120.3,289.2 L120.1,287.7 L119.4,285.6 L119.2,283.6 L119.0,281.7 L118.2,279.7 L117.9,277.7 L117.5,276.5 L117.6,273.9 L117.1,272.2 L116.5,271.2 L116.3,268.7 L115.9,267.2 L115.8,265.4Z"/><path d="M560.0,601.3 L563.1,601.7 L565.9,602.7 L570.0,600.6 L572.2,601.7 L574.5,603.4 L577.2,604.2 L580.5,604.8 L583.5,605.6 L586.3,606.1 L589.0,606.9 L591.8,607.9 L595.0,608.5 L597.8,609.8 L600.5,609.6 L603.6,609.7 L606.5,609.5 L609.3,609.3 L613.6,610.5 L616.8,607.6 L618.8,605.5 L621.0,607.7 L623.9,609.1 L628.1,608.5 L631.1,606.1 L634.1,609.3 L636.4,607.7 L638.4,606.1 L642.9,605.5 L647.0,605.4 L649.1,603.8 L651.7,602.0 L655.8,599.6 L659.1,598.2 L661.6,596.8 L664.7,595.7 L667.5,594.5 L670.4,593.5 L673.4,592.4 L676.6,591.9 L679.9,590.8 L679.9,594.1 L680.2,597.2 L680.0,600.3 L676.3,601.3 L673.2,601.7 L670.6,603.0 L667.3,604.1 L664.4,605.4 L661.6,606.4 L658.9,608.1 L655.9,610.8 L653.8,612.5 L651.5,614.9 L647.0,615.7 L642.9,617.8 L640.7,619.6 L638.6,620.6 L633.9,620.2 L629.7,618.5 L625.5,617.1 L621.1,617.9 L618.0,621.5 L615.1,624.5 L612.2,624.3 L610.4,622.8 L607.9,621.5 L605.4,619.9 L603.7,618.8 L599.2,620.8 L594.7,618.6 L591.9,617.1 L589.0,615.6 L586.4,616.6 L583.2,617.0 L580.8,615.0 L578.8,613.5 L574.5,611.2 L571.9,610.4 L568.8,609.3 L564.3,610.0 L560.2,610.7 L559.7,607.7 L560.3,604.0Z"/><path d="M669.5,602.1 L670.7,601.8 L672.0,600.6 L673.4,600.1 L674.7,599.7 L676.0,599.2 L677.4,598.7 L678.6,598.9 L679.8,598.6 L680.9,598.1 L682.1,597.6 L683.3,597.2 L684.6,597.6 L685.9,597.3 L687.1,596.9 L688.3,596.7 L689.4,597.0 L690.6,597.1 L691.7,597.2 L692.8,597.5 L693.9,598.4 L695.0,598.6 L696.1,599.2 L697.2,599.0 L698.3,600.3 L699.5,600.7 L700.5,601.0 L701.8,601.9 L702.9,602.7 L704.0,603.5 L705.0,604.0 L706.2,604.7 L707.1,606.0 L708.1,606.7 L709.0,607.5 L710.3,608.4 L711.3,609.2 L712.4,610.6 L713.2,611.5 L714.4,612.3 L715.4,612.8 L716.6,614.3 L717.6,615.3 L718.7,615.8 L719.7,616.6 L720.8,617.6 L721.9,618.7 L722.9,619.4 L724.0,620.3 L725.0,621.2 L726.2,622.3 L727.4,622.7 L728.4,623.7 L729.7,624.8 L730.8,625.1 L732.1,626.3 L733.5,626.1 L734.8,627.0 L736.0,627.8 L737.2,628.6 L738.2,629.0 L739.2,629.5 L740.2,630.4 L740.9,631.2 L741.8,632.2 L743.1,632.9 L744.2,634.5 L745.1,635.9 L746.3,636.5 L747.5,637.6 L748.7,638.1 L749.9,639.3 L751.2,640.1 L752.5,640.9 L753.7,641.9 L754.9,642.9 L756.4,643.5 L757.6,644.7 L758.9,645.0 L760.3,645.7 L761.5,646.1 L762.7,647.2 L764.0,648.1 L765.3,648.8 L766.7,649.4 L767.9,649.7 L769.2,650.1 L770.6,650.9 L771.9,651.5 L773.1,652.3 L774.5,652.3 L775.7,653.3 L777.0,653.5 L778.3,654.5 L779.7,654.8 L781.0,654.7 L782.4,655.3 L783.6,655.9 L784.9,656.4 L786.2,656.5 L787.5,657.1 L788.7,657.0 L790.0,657.5 L791.3,657.7 L792.5,658.4 L793.9,658.3 L795.2,658.2 L796.7,651.6 L795.5,651.3 L794.2,651.4 L792.9,650.8 L791.6,650.9 L790.5,650.0 L789.2,650.2 L787.9,649.7 L786.8,649.5 L785.5,649.0 L784.3,648.7 L783.1,648.0 L781.9,648.1 L780.7,647.7 L779.5,646.6 L778.3,646.5 L777.0,645.9 L775.8,645.7 L774.5,645.2 L773.4,644.5 L772.2,643.6 L770.9,643.4 L769.8,643.2 L768.5,642.6 L767.2,641.8 L766.1,640.9 L764.9,640.1 L763.7,639.7 L762.3,639.0 L761.1,638.7 L759.9,637.6 L758.7,636.7 L757.5,635.7 L756.3,635.0 L755.0,634.7 L754.1,633.7 L753.1,632.5 L752.0,632.2 L751.1,631.1 L750.1,630.6 L749.1,629.6 L747.9,628.3 L747.0,627.3 L746.0,626.2 L744.7,625.4 L743.5,623.8 L741.9,622.9 L740.5,622.1 L738.9,621.4 L737.7,620.6 L736.6,619.8 L735.3,620.2 L734.3,619.0 L733.3,619.0 L732.4,617.7 L731.2,617.3 L730.3,616.9 L729.2,615.6 L728.3,614.9 L727.3,613.9 L726.4,613.4 L725.3,612.3 L724.1,611.5 L723.1,610.6 L722.2,610.0 L721.2,609.0 L720.2,607.4 L718.9,607.1 L718.0,606.1 L716.9,605.5 L715.8,604.0 L714.8,603.2 L713.7,602.2 L712.6,601.6 L711.5,600.8 L710.6,599.4 L709.3,598.6 L708.1,598.0 L706.9,597.0 L705.6,596.1 L704.3,594.8 L702.9,594.5 L701.4,594.0 L700.1,592.5 L698.7,592.5 L697.2,592.3 L695.9,591.7 L694.5,590.8 L693.0,590.6 L691.6,590.4 L690.2,590.0 L688.7,589.9 L687.1,589.8 L685.5,590.2 L683.8,590.3 L682.3,590.6 L680.8,590.8 L679.3,591.2 L677.9,591.9 L676.5,592.0 L675.0,591.9 L673.6,593.0 L672.1,593.1 L670.7,593.8 L669.3,594.2 L668.0,595.6 L666.5,595.5Z"/><path d="M735.2,622.0 L736.2,618.6 L738.6,617.6 L741.0,618.6 L742.4,622.0 L743.5,628.0 L738.0,626.0Z"/></g>
<g fill="#ac0020" stroke="#ac0020" stroke-width="0.5"><path d="M152.8,19.2 L156.2,19.1 L159.1,19.3 L162.6,19.1 L165.6,19.0 L168.5,19.1 L172.0,19.0 L174.4,21.3 L174.1,24.4 L174.6,28.2 L174.4,31.4 L177.2,29.0 L181.9,28.9 L182.1,32.4 L181.7,36.1 L181.7,39.6 L181.9,42.8 L184.8,44.6 L187.9,46.4 L188.2,49.4 L188.1,52.5 L188.1,55.8 L191.9,55.8 L192.0,58.9 L191.9,61.8 L192.4,64.6 L192.6,68.1 L192.5,70.9 L194.4,74.6 L196.5,78.5 L196.4,82.1 L197.2,86.3 L200.9,90.7 L201.7,94.7 L202.3,98.4 L203.2,101.4 L203.8,104.2 L204.7,107.6 L205.8,111.3 L206.9,115.0 L210.7,119.7 L211.7,123.0 L212.4,126.6 L213.2,130.1 L209.5,130.3 L206.3,130.0 L202.5,130.0 L201.6,125.7 L200.0,121.7 L197.7,118.2 L197.8,114.6 L197.6,110.7 L197.0,107.4 L196.7,104.2 L196.1,101.3 L196.2,98.6 L195.7,95.3 L194.3,92.5 L193.3,89.3 L190.9,91.4 L187.3,91.6 L187.2,88.2 L186.7,84.9 L186.5,81.5 L186.1,78.4 L185.8,75.3 L181.2,75.6 L180.7,79.3 L180.9,83.2 L176.6,83.8 L176.3,80.9 L176.5,77.2 L175.8,74.0 L175.7,71.0 L175.7,68.0 L174.7,63.8 L173.5,60.2 L173.4,56.8 L173.0,53.5 L173.0,50.5 L173.0,46.8 L173.0,44.0 L172.8,40.5 L168.8,35.9 L165.0,32.9 L164.7,29.7 L164.5,26.4 L164.3,22.8 L161.3,22.9 L161.4,27.0 L161.0,31.3 L156.9,31.2 L156.5,28.3 L153.0,27.7 L152.8,23.4Z"/><path d="M195.9,108.4 L196.6,111.2 L197.1,111.5 L197.7,114.0 L199.1,117.0 L199.6,117.0 L200.3,119.8 L201.0,120.3 L202.6,122.3 L202.6,124.9 L203.1,127.5 L204.4,129.5 L205.6,131.5 L205.3,132.2 L206.8,134.9 L207.5,136.3 L207.5,139.0 L208.2,141.9 L209.7,143.0 L209.4,146.1 L210.9,147.3 L211.6,149.0 L211.7,152.1 L213.3,153.7 L213.8,154.5 L215.0,155.6 L216.3,159.1 L217.1,161.7 L218.7,161.6 L219.6,162.8 L220.8,166.1 L221.8,168.7 L222.9,170.5 L223.7,171.3 L224.9,173.0 L226.3,174.2 L227.6,175.0 L228.7,177.5 L230.0,178.8 L231.3,181.0 L232.9,182.4 L234.2,183.5 L236.4,183.6 L237.9,187.7 L239.5,188.2 L241.1,188.8 L242.6,190.1 L243.7,190.8 L245.2,192.5 L246.5,193.7 L247.9,196.2 L248.6,197.3 L250.7,199.4 L251.7,200.8 L253.9,200.2 L254.9,202.1 L256.9,202.7 L258.0,205.6 L260.0,204.8 L261.5,206.3 L262.9,207.8 L264.7,207.8 L265.4,211.8 L267.0,213.1 L268.5,213.7 L270.5,213.7 L272.2,213.9 L273.1,216.0 L274.6,218.6 L275.7,219.9 L277.0,218.5 L278.2,220.5 L279.0,222.4 L280.8,223.2 L281.4,225.5 L282.8,226.2 L283.7,227.9 L284.8,231.1 L286.0,232.2 L287.8,232.3 L288.9,234.4 L290.6,234.5 L292.0,236.4 L293.5,239.9 L294.7,240.3 L295.9,243.0 L297.5,243.5 L298.8,245.9 L300.5,246.4 L301.7,249.1 L303.2,250.8 L304.7,251.4 L306.0,253.1 L307.5,254.1 L309.0,255.2 L310.1,258.2 L311.6,259.6 L313.4,260.0 L314.3,262.3 L315.9,263.8 L317.4,264.4 L318.7,266.1 L320.5,267.2 L321.9,268.8 L322.7,270.7 L323.8,273.4 L325.6,274.4 L326.4,275.9 L327.6,278.0 L329.3,278.8 L331.1,280.0 L332.4,282.5 L334.2,283.4 L336.1,284.7 L337.8,287.1 L339.8,287.1 L342.1,288.7 L344.4,289.6 L346.8,288.8 L349.2,289.2 L351.4,288.0 L353.4,287.9 L355.5,287.6 L357.0,286.5 L358.6,285.8 L360.5,284.7 L362.5,284.4 L364.5,284.6 L366.6,283.8 L368.5,283.8 L370.3,282.6 L371.9,282.3 L373.4,282.0 L374.9,283.1 L376.5,283.5 L378.0,283.0 L379.1,285.1 L380.6,285.5 L381.9,286.2 L383.0,287.7 L384.2,289.0 L386.1,289.9 L388.0,291.2 L390.2,292.5 L392.3,293.3 L394.3,295.2 L396.5,295.5 L398.4,295.7 L400.0,296.5 L401.6,297.4 L403.5,297.2 L404.7,298.2 L406.4,299.2 L408.0,300.4 L410.0,301.4 L412.1,301.6 L414.5,303.0 L416.9,302.7 L419.3,302.0 L421.3,302.3 L423.2,301.1 L425.0,300.7 L426.8,301.6 L428.8,301.1 L430.8,301.0 L432.6,300.1 L434.3,301.2 L435.8,300.1 L437.1,301.9 L438.6,301.6 L440.3,303.4 L442.5,304.0 L444.8,305.4 L447.1,304.6 L449.3,305.4 L451.5,304.6 L453.6,304.8 L455.7,304.8 L457.8,303.9 L459.9,303.0 L462.2,302.8 L464.5,302.6 L466.6,301.0 L468.4,298.6 L470.4,297.7 L471.7,296.6 L473.0,295.1 L474.4,293.5 L475.8,292.3 L477.0,290.1 L477.9,287.6 L479.2,286.1 L480.7,285.3 L481.8,283.3 L483.1,281.7 L484.5,280.1 L485.4,277.3 L486.0,274.9 L486.8,274.0 L487.6,271.2 L488.2,269.8 L488.9,267.5 L489.5,265.6 L490.6,264.6 L491.1,262.7 L491.6,261.8 L492.2,259.2 L492.9,257.2 L493.6,256.1 L494.8,254.1 L495.0,251.8 L495.7,250.5 L496.8,248.9 L496.8,245.6 L497.4,243.8 L498.7,242.8 L499.1,241.1 L500.0,239.1 L500.4,236.0 L500.8,233.5 L501.4,231.5 L502.4,230.4 L502.7,228.5 L503.4,226.2 L503.4,223.8 L503.9,221.9 L504.7,220.3 L505.1,217.7 L505.2,216.1 L506.2,214.3 L506.9,211.4 L507.4,210.4 L507.8,208.4 L507.8,205.4 L508.4,204.3 L509.0,200.9 L509.5,199.1 L510.5,197.8 L511.4,195.2 L511.6,193.6 L512.5,191.8 L512.8,189.0 L513.4,188.0 L507.7,186.0 L506.9,187.0 L505.9,189.5 L505.0,191.5 L504.8,193.2 L504.3,196.0 L503.6,197.4 L502.6,199.1 L502.1,202.6 L501.7,203.8 L501.2,206.7 L500.6,208.7 L499.9,209.7 L499.8,212.7 L499.0,214.5 L498.8,216.1 L497.8,218.6 L497.7,220.3 L496.7,222.1 L496.6,224.5 L495.7,226.7 L495.7,228.7 L495.1,229.8 L494.1,231.6 L493.5,233.9 L493.6,237.1 L492.3,239.1 L492.2,240.7 L491.7,242.0 L491.0,243.7 L490.0,246.5 L489.7,248.4 L488.5,249.4 L488.3,251.6 L487.2,253.7 L487.1,255.1 L486.0,256.9 L485.7,259.6 L485.1,260.5 L484.4,262.3 L483.5,263.4 L482.8,265.2 L482.5,267.6 L481.7,269.0 L480.8,271.5 L480.3,272.4 L479.3,274.1 L478.5,276.7 L477.6,278.2 L476.3,279.6 L475.1,281.4 L473.9,282.3 L473.1,283.9 L471.6,285.7 L470.2,287.4 L469.3,288.9 L467.7,290.2 L466.9,292.0 L465.6,292.6 L464.5,293.7 L463.0,295.5 L461.4,296.6 L459.7,296.4 L458.0,296.8 L456.4,297.5 L454.6,297.9 L452.9,298.3 L451.0,297.6 L449.2,298.0 L447.5,297.7 L445.9,298.0 L444.4,297.6 L443.0,297.4 L441.6,295.8 L439.8,295.4 L437.5,293.4 L434.8,294.5 L432.3,293.9 L430.2,294.3 L428.2,294.0 L426.3,295.0 L424.2,294.0 L422.0,294.2 L420.1,295.5 L418.2,294.9 L416.7,296.2 L415.3,296.0 L414.0,294.9 L412.7,295.1 L411.5,294.4 L410.0,293.5 L408.5,292.1 L406.6,291.4 L404.7,290.7 L402.5,290.0 L400.5,289.1 L398.6,288.8 L396.5,288.7 L394.7,287.1 L393.0,286.6 L391.8,284.9 L390.2,284.4 L388.6,284.0 L387.5,282.9 L386.0,281.4 L384.5,280.1 L382.5,279.0 L380.7,276.8 L378.5,277.3 L376.5,275.9 L374.0,275.6 L371.5,274.8 L368.9,275.4 L366.6,276.9 L364.5,277.1 L362.4,277.9 L360.8,277.9 L358.9,278.0 L356.9,279.5 L354.7,279.8 L352.8,281.0 L351.1,281.7 L349.6,281.7 L348.2,282.1 L347.0,281.4 L345.6,282.7 L344.3,282.1 L342.9,280.5 L341.5,281.0 L340.0,279.4 L338.6,278.2 L337.2,277.3 L335.7,275.4 L334.6,273.8 L332.8,273.4 L331.6,271.6 L330.9,270.2 L329.6,268.8 L328.4,266.0 L327.1,264.4 L325.7,262.6 L323.7,261.5 L322.3,259.9 L321.2,258.9 L319.9,257.2 L318.5,255.3 L316.7,254.7 L315.3,253.1 L313.9,250.4 L312.6,249.0 L311.1,248.0 L309.8,246.4 L308.2,245.8 L306.8,244.1 L305.3,241.8 L303.9,241.1 L302.3,239.1 L301.0,238.3 L299.6,235.9 L298.3,235.6 L297.3,231.7 L295.2,230.6 L294.5,229.6 L293.1,228.0 L291.5,227.8 L290.3,226.9 L290.1,223.0 L288.9,221.7 L287.3,221.2 L286.7,218.9 L285.2,217.6 L283.9,215.7 L282.1,213.7 L281.0,214.1 L279.7,212.5 L277.4,210.5 L276.4,208.6 L274.7,208.5 L273.4,207.5 L271.6,207.3 L270.2,205.6 L269.0,202.0 L267.4,201.6 L265.5,200.6 L264.3,198.8 L262.5,199.5 L261.3,196.8 L259.9,195.6 L258.2,194.8 L256.7,194.8 L255.1,194.3 L253.9,191.7 L252.6,191.5 L251.5,188.9 L250.6,187.4 L249.2,185.3 L247.7,184.5 L246.0,183.3 L244.1,182.8 L242.6,182.4 L241.3,178.4 L239.9,177.8 L238.6,177.2 L236.6,176.2 L235.3,174.2 L234.0,173.1 L233.8,170.1 L232.5,169.5 L231.6,168.0 L230.1,166.7 L228.9,166.3 L228.4,164.3 L226.4,162.6 L225.7,159.1 L224.9,158.0 L224.4,157.7 L223.3,155.3 L221.4,152.3 L221.4,150.6 L219.7,150.6 L218.8,149.0 L218.0,146.5 L218.2,144.6 L217.3,143.5 L217.0,140.6 L216.5,139.2 L215.5,136.4 L214.7,133.8 L213.9,132.4 L213.0,129.3 L211.9,129.1 L212.1,126.5 L210.6,124.5 L210.4,121.7 L209.7,119.4 L208.6,117.1 L207.9,116.5 L207.4,113.7 L206.3,113.8 L205.4,110.6 L204.4,108.4 L203.3,108.2 L202.9,105.3Z"/><path d="M503.3,199.8 L503.3,197.8 L504.3,194.3 L505.5,191.8 L506.5,189.0 L507.1,186.5 L507.6,184.2 L508.3,181.4 L509.0,177.8 L509.8,175.5 L509.8,172.3 L510.8,169.9 L511.9,167.5 L512.6,164.6 L513.1,162.0 L513.6,159.4 L514.5,156.9 L516.2,154.3 L516.6,151.7 L517.2,148.2 L516.8,145.5 L517.3,142.6 L519.3,139.9 L521.0,137.5 L523.0,134.7 L523.1,131.9 L523.4,128.8 L524.0,125.6 L524.5,122.7 L526.0,121.6 L528.3,119.5 L530.4,118.3 L532.4,115.5 L533.4,112.6 L535.2,110.3 L535.8,106.9 L536.5,103.5 L538.5,102.0 L541.1,101.5 L543.2,98.0 L545.0,95.0 L547.1,94.0 L549.7,92.2 L552.7,92.2 L553.3,94.5 L557.3,93.1 L560.9,93.8 L564.8,92.1 L565.2,95.2 L565.2,98.0 L564.8,100.2 L565.5,102.8 L566.7,105.7 L568.5,108.1 L572.1,106.9 L572.4,109.1 L572.6,112.0 L573.3,114.9 L574.4,116.9 L576.1,119.4 L576.4,122.5 L577.3,125.3 L576.8,127.5 L577.8,130.0 L578.9,132.3 L580.6,134.6 L582.3,136.3 L582.1,138.6 L582.2,141.0 L582.8,143.6 L583.1,146.6 L582.4,149.0 L583.0,151.3 L583.7,153.8 L584.8,156.6 L585.4,160.3 L586.4,162.3 L586.8,165.1 L586.9,168.7 L587.6,170.9 L587.5,174.5 L588.0,177.5 L589.5,179.9 L589.7,183.0 L590.6,185.1 L591.3,187.9 L592.1,191.1 L592.3,194.4 L593.0,196.7 L592.8,200.2 L590.1,199.9 L587.0,199.7 L583.6,199.8 L582.9,196.8 L582.2,194.6 L581.3,191.2 L580.9,188.6 L579.6,186.1 L578.1,183.6 L577.8,180.7 L577.7,177.6 L576.7,175.1 L576.9,173.3 L577.1,170.3 L576.5,168.1 L576.1,165.5 L576.0,163.1 L575.3,160.7 L574.5,157.8 L573.5,155.3 L572.9,153.3 L572.5,149.6 L572.1,146.6 L571.9,143.8 L571.4,140.9 L568.4,140.8 L565.6,140.8 L563.2,139.6 L562.6,136.2 L560.7,133.7 L560.2,130.1 L558.6,126.6 L557.8,123.2 L555.9,126.2 L555.0,127.8 L550.2,128.9 L547.2,126.8 L544.1,125.6 L544.0,128.8 L543.0,131.9 L542.0,135.0 L542.0,138.0 L539.5,138.5 L538.7,141.3 L538.7,144.7 L535.9,144.6 L535.6,142.2 L535.5,138.9 L535.6,136.8 L534.9,133.9 L532.9,136.8 L530.4,138.6 L529.0,141.1 L527.3,144.6 L525.9,147.2 L524.7,150.1 L524.3,152.2 L523.2,155.4 L522.3,158.1 L521.2,160.7 L520.0,163.7 L518.9,166.5 L518.0,168.4 L516.7,171.2 L516.4,173.7 L515.6,176.7 L515.2,179.2 L514.5,182.5 L513.6,184.9 L512.8,187.7 L511.9,189.6 L511.4,192.8 L510.3,195.5 L509.9,197.2 L508.9,199.9 L506.1,199.7Z"/><path d="M582.6,190.8 L582.9,193.1 L583.5,193.5 L583.4,196.4 L584.2,197.8 L584.7,199.8 L584.3,201.3 L584.7,203.0 L585.6,205.6 L585.9,207.9 L585.7,210.1 L586.4,211.9 L586.4,212.7 L586.8,215.8 L587.8,216.6 L588.0,218.0 L588.0,219.7 L588.1,222.1 L588.6,223.9 L588.4,225.5 L588.8,228.5 L589.4,230.4 L589.9,231.1 L590.1,234.6 L589.9,236.7 L590.7,237.8 L590.9,239.5 L591.9,242.7 L592.1,243.5 L592.6,246.9 L593.1,248.4 L593.7,249.8 L593.5,252.9 L594.0,253.9 L595.0,256.4 L595.3,259.2 L595.4,260.0 L595.9,262.7 L596.2,265.0 L597.3,266.9 L597.1,267.9 L597.3,270.3 L598.1,272.9 L598.5,274.4 L599.1,275.8 L598.8,278.8 L599.7,279.9 L599.8,281.7 L600.2,283.9 L600.6,286.5 L601.0,288.0 L601.3,290.3 L601.5,292.0 L602.6,294.4 L602.3,295.9 L602.6,298.8 L602.9,300.0 L603.4,302.7 L603.4,304.8 L603.8,306.9 L603.9,307.7 L604.2,310.1 L604.9,312.4 L604.7,314.2 L604.8,316.3 L605.6,318.3 L605.3,319.9 L605.5,322.3 L606.0,323.8 L606.2,325.3 L606.6,327.3 L606.3,329.6 L606.3,331.4 L607.0,333.7 L606.8,335.3 L607.3,337.2 L607.9,340.1 L607.9,342.9 L608.4,344.8 L608.8,345.8 L608.9,349.2 L613.8,348.3 L613.4,344.9 L612.8,343.9 L612.5,342.1 L612.2,339.3 L611.5,336.6 L611.3,334.6 L611.1,333.1 L610.5,330.9 L610.8,329.2 L610.4,326.9 L610.0,324.9 L609.6,323.4 L609.4,321.8 L609.3,319.5 L609.0,317.9 L609.2,315.8 L608.8,313.7 L608.8,312.0 L608.5,309.6 L608.4,307.1 L607.8,306.4 L607.9,304.2 L607.5,302.2 L607.2,299.4 L606.9,298.2 L606.4,295.3 L606.2,293.8 L605.9,291.3 L605.6,289.5 L604.9,287.3 L604.9,285.7 L604.5,283.1 L604.2,280.9 L603.2,279.3 L603.4,278.0 L602.9,275.1 L602.5,273.7 L602.4,272.2 L602.4,269.4 L601.7,267.1 L601.5,266.2 L601.3,264.1 L600.6,261.8 L600.2,259.1 L600.1,258.2 L599.9,255.4 L599.5,252.8 L598.8,251.8 L598.4,248.9 L598.2,247.4 L598.3,245.8 L597.7,242.5 L597.7,241.6 L597.2,238.4 L596.9,236.7 L596.2,235.7 L596.3,233.7 L595.7,230.4 L595.8,229.7 L595.2,227.8 L595.1,224.8 L595.5,223.2 L595.2,221.3 L594.9,218.9 L594.9,217.0 L594.3,215.6 L594.1,214.6 L594.1,211.3 L593.8,210.6 L593.2,208.8 L592.9,206.7 L592.4,204.5 L592.2,201.8 L592.5,200.1 L591.8,198.8 L591.9,196.8 L591.3,195.3 L591.8,192.3 L591.5,191.9 L591.2,189.6Z"/><path d="M602.2,300.2 L602.7,302.4 L602.8,305.4 L603.0,308.0 L603.1,311.0 L603.4,313.7 L603.8,316.3 L604.5,319.2 L604.7,322.1 L604.9,324.3 L605.6,327.5 L605.9,330.2 L606.5,332.7 L606.6,335.5 L607.0,338.2 L607.2,340.3 L607.8,343.3 L608.3,345.7 L608.7,348.0 L608.9,350.7 L609.9,353.4 L610.0,356.2 L610.6,359.2 L611.6,362.3 L612.9,364.6 L614.4,367.1 L616.1,369.8 L619.7,372.2 L621.0,375.1 L622.0,377.2 L622.7,380.3 L623.7,382.7 L625.6,384.5 L627.9,385.6 L630.7,385.7 L634.2,385.6 L637.1,385.2 L637.9,382.3 L639.0,378.6 L641.0,374.8 L641.5,372.0 L642.7,369.6 L644.0,367.6 L644.5,364.6 L645.4,361.9 L646.2,359.9 L646.8,357.1 L647.9,354.6 L648.4,352.0 L649.6,349.2 L650.3,345.9 L651.0,343.3 L651.8,340.1 L652.4,337.4 L653.5,334.6 L654.1,331.9 L654.3,329.0 L654.9,326.1 L655.8,323.0 L656.2,320.1 L657.3,317.4 L658.3,314.4 L659.8,311.4 L660.8,308.5 L661.4,306.6 L662.2,304.0 L662.5,300.1 L659.0,300.0 L656.0,299.8 L654.9,303.2 L653.5,306.4 L653.1,309.3 L652.5,312.6 L652.0,315.4 L651.6,318.2 L650.7,321.3 L649.7,324.0 L648.2,326.5 L647.0,329.4 L646.7,332.0 L646.4,335.2 L646.2,337.8 L645.8,340.5 L644.7,342.9 L644.1,346.0 L643.5,347.9 L642.7,350.6 L641.5,353.9 L640.3,357.0 L639.6,359.5 L638.8,362.3 L637.4,364.9 L636.2,367.2 L634.8,370.1 L633.6,372.4 L630.6,369.9 L629.5,372.7 L628.9,376.2 L626.0,375.1 L625.4,371.7 L623.7,369.1 L622.9,366.1 L622.3,363.6 L621.8,361.1 L621.2,358.4 L617.3,357.1 L616.2,354.3 L616.0,351.8 L614.9,349.4 L614.2,347.0 L613.9,344.1 L613.0,341.5 L612.8,338.9 L611.9,336.1 L611.8,333.2 L610.8,330.1 L610.8,327.7 L609.7,324.5 L609.7,322.0 L609.1,318.9 L608.7,316.0 L608.3,313.5 L608.5,311.0 L607.9,308.0 L607.5,305.6 L607.4,302.5 L607.3,300.0 L605.0,300.0Z"/><path d="M650.3,344.3 L650.2,341.3 L651.4,340.0 L651.5,338.5 L652.2,336.6 L652.5,334.6 L653.1,333.0 L654.2,331.0 L654.6,328.1 L654.5,326.8 L655.2,325.3 L655.7,323.4 L656.8,321.3 L657.1,319.7 L657.9,318.5 L658.1,315.8 L658.2,314.2 L658.8,312.2 L659.5,310.0 L660.0,307.8 L660.4,306.8 L661.3,303.8 L661.8,302.9 L662.2,300.6 L663.0,298.1 L663.9,296.9 L664.3,296.0 L664.4,293.8 L664.9,291.8 L665.3,289.7 L665.6,287.8 L666.0,286.0 L666.8,283.0 L667.2,281.3 L667.7,279.4 L668.2,278.0 L668.6,275.8 L669.7,273.7 L670.4,272.4 L670.6,270.0 L671.1,268.2 L671.4,267.3 L671.7,264.6 L672.3,263.4 L673.5,261.1 L673.4,258.6 L674.1,257.9 L674.7,256.5 L675.1,253.4 L675.8,252.7 L675.9,250.7 L676.8,249.0 L677.6,247.1 L677.7,245.4 L679.0,243.7 L671.0,241.4 L670.7,243.3 L670.5,245.0 L669.3,246.8 L669.4,248.8 L668.9,250.6 L668.4,251.5 L667.6,254.5 L666.8,255.8 L666.2,256.6 L665.8,258.9 L665.4,261.5 L665.5,262.8 L665.0,265.5 L663.9,266.1 L663.8,268.0 L662.7,270.3 L662.7,271.8 L662.1,274.0 L661.5,276.2 L660.6,277.4 L660.1,279.4 L660.1,281.3 L659.9,284.5 L659.0,286.3 L658.9,288.2 L658.2,290.2 L657.4,292.2 L657.1,294.3 L657.1,295.3 L656.2,296.4 L655.5,298.8 L655.6,301.3 L654.7,301.9 L654.3,305.1 L653.7,306.0 L653.5,308.3 L652.9,310.5 L652.2,312.5 L652.2,314.1 L651.9,316.9 L650.9,318.1 L650.2,319.6 L650.0,321.9 L649.3,323.7 L649.5,325.4 L648.5,326.5 L648.5,329.5 L647.6,331.5 L647.3,333.2 L646.9,335.1 L646.1,337.0 L646.0,338.5 L645.3,339.9 L645.0,342.8Z"/><path d="M660.1,275.2 L660.6,272.7 L661.6,269.7 L662.4,267.0 L663.3,264.2 L664.7,261.4 L665.4,259.2 L666.8,256.1 L667.3,254.4 L668.4,251.5 L669.0,249.4 L669.5,246.6 L671.0,243.4 L671.3,240.8 L672.2,238.1 L673.1,235.6 L674.0,232.8 L675.1,229.0 L676.8,226.5 L678.0,224.1 L679.0,220.8 L679.8,218.7 L680.4,215.7 L681.4,213.1 L682.8,211.2 L684.4,208.5 L685.1,206.8 L686.9,204.5 L687.9,202.6 L689.6,200.5 L690.6,197.8 L691.5,195.3 L691.9,193.0 L694.3,190.8 L697.1,189.2 L699.7,187.4 L701.8,185.0 L704.9,185.9 L705.6,189.1 L708.5,189.2 L711.2,191.2 L713.3,192.9 L715.1,195.0 L717.0,197.3 L718.2,199.8 L720.0,202.7 L720.9,204.8 L721.4,207.7 L722.6,210.3 L723.3,213.4 L723.8,215.6 L724.9,218.2 L725.6,221.0 L725.8,223.8 L726.6,226.9 L727.9,229.4 L728.7,231.5 L728.9,233.9 L729.2,237.0 L729.8,239.5 L730.8,241.6 L730.9,244.4 L732.1,246.3 L732.0,248.8 L732.8,251.3 L733.6,254.2 L733.9,256.6 L734.5,259.3 L735.0,261.8 L735.8,264.7 L736.1,266.8 L736.1,269.1 L736.7,272.2 L737.1,274.9 L737.5,277.2 L737.9,279.5 L738.8,282.3 L739.4,284.6 L739.3,287.0 L739.8,290.2 L736.5,289.9 L733.0,290.1 L732.8,287.0 L731.7,284.3 L732.0,282.1 L731.0,279.0 L730.7,276.6 L730.5,273.8 L729.6,271.2 L729.7,269.0 L729.1,266.2 L728.4,263.9 L727.9,261.3 L727.0,259.1 L727.1,256.3 L726.1,253.3 L725.7,251.6 L725.1,248.6 L724.7,246.0 L723.7,243.6 L723.8,241.4 L722.6,238.7 L722.4,236.0 L721.4,233.1 L721.0,231.0 L719.9,227.8 L719.0,225.7 L718.9,222.7 L717.9,220.1 L716.9,217.2 L715.8,214.7 L714.2,211.9 L713.1,208.9 L711.3,205.8 L708.7,203.3 L704.9,202.7 L703.6,205.8 L699.8,205.1 L698.0,206.8 L695.6,208.9 L694.2,211.7 L692.9,214.5 L692.1,217.4 L690.2,219.4 L688.8,222.7 L687.3,224.8 L686.1,227.1 L685.1,229.9 L683.9,233.0 L682.9,235.3 L682.2,237.9 L681.5,239.9 L680.4,242.9 L679.8,245.2 L679.0,247.7 L678.3,250.7 L677.4,253.5 L676.4,255.5 L675.3,258.9 L674.6,261.4 L673.4,263.6 L673.1,266.3 L671.9,269.4 L671.2,271.9 L670.8,274.4 L670.0,276.4 L668.9,279.6 L668.3,281.9 L667.8,284.7 L667.0,287.3 L666.0,290.0 L662.7,290.1 L660.1,289.8 L659.6,287.3 L659.7,284.0 L659.8,280.7 L659.8,277.6Z"/><path d="M728.5,261.5 L728.7,262.7 L729.0,264.0 L729.4,265.4 L729.5,266.7 L729.8,267.9 L730.1,269.4 L730.3,270.5 L730.7,271.8 L731.0,273.5 L731.2,274.8 L731.5,276.0 L731.7,277.6 L732.0,279.0 L732.3,280.5 L732.6,281.8 L732.9,283.2 L733.1,284.4 L733.4,285.8 L733.6,287.4 L734.0,288.8 L734.2,290.1 L734.4,291.6 L734.8,292.9 L734.9,294.3 L735.3,295.6 L735.6,296.8 L735.9,298.3 L736.2,299.7 L736.5,301.4 L736.6,302.7 L737.0,304.2 L737.1,305.4 L737.5,306.7 L737.7,308.1 L738.1,309.5 L738.3,311.0 L738.6,312.5 L738.9,313.9 L739.1,315.4 L739.4,316.6 L739.8,318.0 L740.0,319.3 L740.3,320.6 L740.6,322.0 L740.8,323.7 L741.1,324.9 L741.3,326.2 L741.7,327.7 L742.0,329.0 L742.3,330.7 L742.5,332.1 L742.9,333.3 L743.0,334.9 L743.4,336.0 L743.6,337.7 L744.0,338.9 L744.1,340.6 L744.4,341.9 L744.8,343.1 L745.1,344.3 L745.2,346.0 L745.5,347.5 L745.9,348.7 L746.2,350.0 L746.4,351.7 L746.6,353.0 L746.9,354.4 L747.3,355.8 L747.6,357.2 L747.8,358.7 L748.0,360.1 L748.4,361.1 L748.7,362.8 L748.9,364.3 L749.2,365.4 L749.4,367.0 L749.7,368.4 L750.0,369.6 L750.2,370.8 L750.5,372.1 L750.7,373.7 L750.9,374.9 L751.2,376.4 L751.5,377.5 L751.8,378.7 L752.0,380.1 L752.3,381.6 L752.4,383.0 L752.8,384.4 L753.0,385.9 L753.2,387.3 L753.6,388.6 L753.9,390.0 L754.1,391.4 L754.3,393.0 L754.6,394.2 L755.1,395.5 L755.3,396.9 L755.5,398.6 L755.9,399.8 L756.2,401.2 L756.5,402.6 L756.8,404.2 L757.3,405.4 L757.7,406.9 L758.0,408.4 L758.4,409.7 L758.6,411.2 L759.0,412.8 L759.5,413.9 L759.9,415.5 L760.2,416.8 L760.7,418.1 L761.1,419.7 L761.5,420.9 L761.9,422.3 L762.5,423.9 L762.7,425.1 L763.3,426.5 L763.8,427.8 L764.3,429.1 L764.7,430.3 L765.1,431.7 L765.7,433.0 L766.1,434.0 L766.5,435.6 L767.0,436.8 L767.6,438.1 L768.1,439.4 L768.5,440.7 L769.1,442.0 L769.7,443.0 L770.3,444.1 L770.9,445.4 L771.3,447.0 L772.0,447.9 L772.6,449.3 L773.1,450.5 L773.8,451.8 L774.4,453.0 L775.0,454.2 L775.6,455.4 L776.3,456.6 L777.0,457.8 L777.5,459.1 L778.2,460.6 L779.0,461.8 L779.7,463.0 L780.5,464.1 L781.1,465.4 L781.9,466.6 L782.6,467.8 L783.4,469.1 L784.2,470.3 L785.2,471.3 L785.9,472.6 L786.7,474.0 L787.6,475.0 L788.3,476.3 L789.2,477.2 L790.0,478.1 L790.7,479.4 L791.5,480.5 L792.2,481.3 L793.0,482.4 L796.9,479.4 L796.2,478.2 L795.4,477.5 L794.7,476.3 L793.9,475.2 L793.2,474.3 L792.5,473.3 L791.8,472.1 L791.0,471.1 L790.2,469.7 L789.3,468.5 L788.5,467.5 L787.8,466.3 L787.0,464.9 L786.2,463.9 L785.6,462.7 L784.9,461.4 L784.2,460.4 L783.4,459.2 L782.8,458.0 L782.2,456.6 L781.5,455.4 L780.9,454.3 L780.2,453.1 L779.7,451.9 L779.0,450.7 L778.6,449.5 L778.0,448.1 L777.3,447.0 L776.8,445.8 L776.3,444.7 L775.6,443.3 L775.2,442.0 L774.6,440.9 L774.1,439.8 L773.5,438.5 L773.1,437.3 L772.6,436.1 L772.0,434.8 L771.5,433.7 L771.0,432.2 L770.6,431.1 L770.2,429.8 L769.7,428.4 L769.2,427.3 L768.8,426.0 L768.5,424.8 L768.0,423.4 L767.6,422.3 L767.2,420.7 L766.7,419.3 L766.2,418.1 L766.0,416.6 L765.5,415.2 L765.0,414.0 L764.6,412.4 L764.4,411.3 L763.8,409.9 L763.5,408.4 L763.2,407.1 L762.9,405.6 L762.6,404.1 L762.3,402.8 L761.9,401.4 L761.6,399.9 L761.2,398.5 L761.0,397.4 L760.5,395.8 L760.3,394.4 L760.1,393.2 L759.7,391.9 L759.5,390.3 L759.2,389.0 L759.0,387.6 L758.7,386.2 L758.4,384.8 L758.1,383.3 L757.8,381.9 L757.6,380.6 L757.4,379.0 L757.2,377.7 L756.8,376.5 L756.6,375.3 L756.3,373.9 L756.1,372.7 L755.8,371.1 L755.6,369.8 L755.3,368.6 L755.2,367.3 L754.8,366.0 L754.5,364.4 L754.3,363.2 L754.1,361.7 L753.8,360.1 L753.4,359.0 L753.2,357.6 L753.0,356.2 L752.6,354.8 L752.5,353.3 L752.0,351.9 L751.8,350.6 L751.6,348.9 L751.2,347.6 L751.1,346.4 L750.7,344.9 L750.4,343.3 L750.1,342.1 L749.8,340.8 L749.7,339.4 L749.4,337.8 L749.1,336.6 L748.7,335.0 L748.5,333.8 L748.2,332.3 L747.9,331.0 L747.6,329.6 L747.3,327.9 L747.0,326.7 L746.9,325.1 L746.5,323.8 L746.2,322.6 L745.9,320.9 L745.6,319.5 L745.4,318.2 L745.1,317.0 L744.8,315.5 L744.7,314.2 L744.4,312.8 L744.1,311.4 L743.9,309.9 L743.5,308.5 L743.3,307.1 L742.9,305.6 L742.8,304.3 L742.4,303.1 L742.2,301.6 L741.9,300.3 L741.6,298.6 L741.4,297.2 L741.1,295.8 L740.9,294.5 L740.7,293.3 L740.4,291.9 L740.1,290.6 L739.9,289.1 L739.7,287.8 L739.4,286.3 L739.0,284.7 L738.9,283.3 L738.7,282.1 L738.4,280.7 L738.0,279.4 L737.8,277.9 L737.5,276.5 L737.3,274.9 L737.1,273.7 L736.8,272.4 L736.5,270.7 L736.2,269.3 L736.1,268.2 L735.9,266.7 L735.4,265.5 L735.2,264.2 L734.9,262.8 L734.8,261.5 L734.6,260.3Z"/></g>
<g fill="#e10a30" filter="url(#er)"><path d="M152.8,19.2 L156.2,19.1 L159.1,19.3 L162.6,19.1 L165.6,19.0 L168.5,19.1 L172.0,19.0 L174.4,21.3 L174.1,24.4 L174.6,28.2 L174.4,31.4 L177.2,29.0 L181.9,28.9 L182.1,32.4 L181.7,36.1 L181.7,39.6 L181.9,42.8 L184.8,44.6 L187.9,46.4 L188.2,49.4 L188.1,52.5 L188.1,55.8 L191.9,55.8 L192.0,58.9 L191.9,61.8 L192.4,64.6 L192.6,68.1 L192.5,70.9 L194.4,74.6 L196.5,78.5 L196.4,82.1 L197.2,86.3 L200.9,90.7 L201.7,94.7 L202.3,98.4 L203.2,101.4 L203.8,104.2 L204.7,107.6 L205.8,111.3 L206.9,115.0 L210.7,119.7 L211.7,123.0 L212.4,126.6 L213.2,130.1 L209.5,130.3 L206.3,130.0 L202.5,130.0 L201.6,125.7 L200.0,121.7 L197.7,118.2 L197.8,114.6 L197.6,110.7 L197.0,107.4 L196.7,104.2 L196.1,101.3 L196.2,98.6 L195.7,95.3 L194.3,92.5 L193.3,89.3 L190.9,91.4 L187.3,91.6 L187.2,88.2 L186.7,84.9 L186.5,81.5 L186.1,78.4 L185.8,75.3 L181.2,75.6 L180.7,79.3 L180.9,83.2 L176.6,83.8 L176.3,80.9 L176.5,77.2 L175.8,74.0 L175.7,71.0 L175.7,68.0 L174.7,63.8 L173.5,60.2 L173.4,56.8 L173.0,53.5 L173.0,50.5 L173.0,46.8 L173.0,44.0 L172.8,40.5 L168.8,35.9 L165.0,32.9 L164.7,29.7 L164.5,26.4 L164.3,22.8 L161.3,22.9 L161.4,27.0 L161.0,31.3 L156.9,31.2 L156.5,28.3 L153.0,27.7 L152.8,23.4Z"/><path d="M195.9,108.4 L196.6,111.2 L197.1,111.5 L197.7,114.0 L199.1,117.0 L199.6,117.0 L200.3,119.8 L201.0,120.3 L202.6,122.3 L202.6,124.9 L203.1,127.5 L204.4,129.5 L205.6,131.5 L205.3,132.2 L206.8,134.9 L207.5,136.3 L207.5,139.0 L208.2,141.9 L209.7,143.0 L209.4,146.1 L210.9,147.3 L211.6,149.0 L211.7,152.1 L213.3,153.7 L213.8,154.5 L215.0,155.6 L216.3,159.1 L217.1,161.7 L218.7,161.6 L219.6,162.8 L220.8,166.1 L221.8,168.7 L222.9,170.5 L223.7,171.3 L224.9,173.0 L226.3,174.2 L227.6,175.0 L228.7,177.5 L230.0,178.8 L231.3,181.0 L232.9,182.4 L234.2,183.5 L236.4,183.6 L237.9,187.7 L239.5,188.2 L241.1,188.8 L242.6,190.1 L243.7,190.8 L245.2,192.5 L246.5,193.7 L247.9,196.2 L248.6,197.3 L250.7,199.4 L251.7,200.8 L253.9,200.2 L254.9,202.1 L256.9,202.7 L258.0,205.6 L260.0,204.8 L261.5,206.3 L262.9,207.8 L264.7,207.8 L265.4,211.8 L267.0,213.1 L268.5,213.7 L270.5,213.7 L272.2,213.9 L273.1,216.0 L274.6,218.6 L275.7,219.9 L277.0,218.5 L278.2,220.5 L279.0,222.4 L280.8,223.2 L281.4,225.5 L282.8,226.2 L283.7,227.9 L284.8,231.1 L286.0,232.2 L287.8,232.3 L288.9,234.4 L290.6,234.5 L292.0,236.4 L293.5,239.9 L294.7,240.3 L295.9,243.0 L297.5,243.5 L298.8,245.9 L300.5,246.4 L301.7,249.1 L303.2,250.8 L304.7,251.4 L306.0,253.1 L307.5,254.1 L309.0,255.2 L310.1,258.2 L311.6,259.6 L313.4,260.0 L314.3,262.3 L315.9,263.8 L317.4,264.4 L318.7,266.1 L320.5,267.2 L321.9,268.8 L322.7,270.7 L323.8,273.4 L325.6,274.4 L326.4,275.9 L327.6,278.0 L329.3,278.8 L331.1,280.0 L332.4,282.5 L334.2,283.4 L336.1,284.7 L337.8,287.1 L339.8,287.1 L342.1,288.7 L344.4,289.6 L346.8,288.8 L349.2,289.2 L351.4,288.0 L353.4,287.9 L355.5,287.6 L357.0,286.5 L358.6,285.8 L360.5,284.7 L362.5,284.4 L364.5,284.6 L366.6,283.8 L368.5,283.8 L370.3,282.6 L371.9,282.3 L373.4,282.0 L374.9,283.1 L376.5,283.5 L378.0,283.0 L379.1,285.1 L380.6,285.5 L381.9,286.2 L383.0,287.7 L384.2,289.0 L386.1,289.9 L388.0,291.2 L390.2,292.5 L392.3,293.3 L394.3,295.2 L396.5,295.5 L398.4,295.7 L400.0,296.5 L401.6,297.4 L403.5,297.2 L404.7,298.2 L406.4,299.2 L408.0,300.4 L410.0,301.4 L412.1,301.6 L414.5,303.0 L416.9,302.7 L419.3,302.0 L421.3,302.3 L423.2,301.1 L425.0,300.7 L426.8,301.6 L428.8,301.1 L430.8,301.0 L432.6,300.1 L434.3,301.2 L435.8,300.1 L437.1,301.9 L438.6,301.6 L440.3,303.4 L442.5,304.0 L444.8,305.4 L447.1,304.6 L449.3,305.4 L451.5,304.6 L453.6,304.8 L455.7,304.8 L457.8,303.9 L459.9,303.0 L462.2,302.8 L464.5,302.6 L466.6,301.0 L468.4,298.6 L470.4,297.7 L471.7,296.6 L473.0,295.1 L474.4,293.5 L475.8,292.3 L477.0,290.1 L477.9,287.6 L479.2,286.1 L480.7,285.3 L481.8,283.3 L483.1,281.7 L484.5,280.1 L485.4,277.3 L486.0,274.9 L486.8,274.0 L487.6,271.2 L488.2,269.8 L488.9,267.5 L489.5,265.6 L490.6,264.6 L491.1,262.7 L491.6,261.8 L492.2,259.2 L492.9,257.2 L493.6,256.1 L494.8,254.1 L495.0,251.8 L495.7,250.5 L496.8,248.9 L496.8,245.6 L497.4,243.8 L498.7,242.8 L499.1,241.1 L500.0,239.1 L500.4,236.0 L500.8,233.5 L501.4,231.5 L502.4,230.4 L502.7,228.5 L503.4,226.2 L503.4,223.8 L503.9,221.9 L504.7,220.3 L505.1,217.7 L505.2,216.1 L506.2,214.3 L506.9,211.4 L507.4,210.4 L507.8,208.4 L507.8,205.4 L508.4,204.3 L509.0,200.9 L509.5,199.1 L510.5,197.8 L511.4,195.2 L511.6,193.6 L512.5,191.8 L512.8,189.0 L513.4,188.0 L507.7,186.0 L506.9,187.0 L505.9,189.5 L505.0,191.5 L504.8,193.2 L504.3,196.0 L503.6,197.4 L502.6,199.1 L502.1,202.6 L501.7,203.8 L501.2,206.7 L500.6,208.7 L499.9,209.7 L499.8,212.7 L499.0,214.5 L498.8,216.1 L497.8,218.6 L497.7,220.3 L496.7,222.1 L496.6,224.5 L495.7,226.7 L495.7,228.7 L495.1,229.8 L494.1,231.6 L493.5,233.9 L493.6,237.1 L492.3,239.1 L492.2,240.7 L491.7,242.0 L491.0,243.7 L490.0,246.5 L489.7,248.4 L488.5,249.4 L488.3,251.6 L487.2,253.7 L487.1,255.1 L486.0,256.9 L485.7,259.6 L485.1,260.5 L484.4,262.3 L483.5,263.4 L482.8,265.2 L482.5,267.6 L481.7,269.0 L480.8,271.5 L480.3,272.4 L479.3,274.1 L478.5,276.7 L477.6,278.2 L476.3,279.6 L475.1,281.4 L473.9,282.3 L473.1,283.9 L471.6,285.7 L470.2,287.4 L469.3,288.9 L467.7,290.2 L466.9,292.0 L465.6,292.6 L464.5,293.7 L463.0,295.5 L461.4,296.6 L459.7,296.4 L458.0,296.8 L456.4,297.5 L454.6,297.9 L452.9,298.3 L451.0,297.6 L449.2,298.0 L447.5,297.7 L445.9,298.0 L444.4,297.6 L443.0,297.4 L441.6,295.8 L439.8,295.4 L437.5,293.4 L434.8,294.5 L432.3,293.9 L430.2,294.3 L428.2,294.0 L426.3,295.0 L424.2,294.0 L422.0,294.2 L420.1,295.5 L418.2,294.9 L416.7,296.2 L415.3,296.0 L414.0,294.9 L412.7,295.1 L411.5,294.4 L410.0,293.5 L408.5,292.1 L406.6,291.4 L404.7,290.7 L402.5,290.0 L400.5,289.1 L398.6,288.8 L396.5,288.7 L394.7,287.1 L393.0,286.6 L391.8,284.9 L390.2,284.4 L388.6,284.0 L387.5,282.9 L386.0,281.4 L384.5,280.1 L382.5,279.0 L380.7,276.8 L378.5,277.3 L376.5,275.9 L374.0,275.6 L371.5,274.8 L368.9,275.4 L366.6,276.9 L364.5,277.1 L362.4,277.9 L360.8,277.9 L358.9,278.0 L356.9,279.5 L354.7,279.8 L352.8,281.0 L351.1,281.7 L349.6,281.7 L348.2,282.1 L347.0,281.4 L345.6,282.7 L344.3,282.1 L342.9,280.5 L341.5,281.0 L340.0,279.4 L338.6,278.2 L337.2,277.3 L335.7,275.4 L334.6,273.8 L332.8,273.4 L331.6,271.6 L330.9,270.2 L329.6,268.8 L328.4,266.0 L327.1,264.4 L325.7,262.6 L323.7,261.5 L322.3,259.9 L321.2,258.9 L319.9,257.2 L318.5,255.3 L316.7,254.7 L315.3,253.1 L313.9,250.4 L312.6,249.0 L311.1,248.0 L309.8,246.4 L308.2,245.8 L306.8,244.1 L305.3,241.8 L303.9,241.1 L302.3,239.1 L301.0,238.3 L299.6,235.9 L298.3,235.6 L297.3,231.7 L295.2,230.6 L294.5,229.6 L293.1,228.0 L291.5,227.8 L290.3,226.9 L290.1,223.0 L288.9,221.7 L287.3,221.2 L286.7,218.9 L285.2,217.6 L283.9,215.7 L282.1,213.7 L281.0,214.1 L279.7,212.5 L277.4,210.5 L276.4,208.6 L274.7,208.5 L273.4,207.5 L271.6,207.3 L270.2,205.6 L269.0,202.0 L267.4,201.6 L265.5,200.6 L264.3,198.8 L262.5,199.5 L261.3,196.8 L259.9,195.6 L258.2,194.8 L256.7,194.8 L255.1,194.3 L253.9,191.7 L252.6,191.5 L251.5,188.9 L250.6,187.4 L249.2,185.3 L247.7,184.5 L246.0,183.3 L244.1,182.8 L242.6,182.4 L241.3,178.4 L239.9,177.8 L238.6,177.2 L236.6,176.2 L235.3,174.2 L234.0,173.1 L233.8,170.1 L232.5,169.5 L231.6,168.0 L230.1,166.7 L228.9,166.3 L228.4,164.3 L226.4,162.6 L225.7,159.1 L224.9,158.0 L224.4,157.7 L223.3,155.3 L221.4,152.3 L221.4,150.6 L219.7,150.6 L218.8,149.0 L218.0,146.5 L218.2,144.6 L217.3,143.5 L217.0,140.6 L216.5,139.2 L215.5,136.4 L214.7,133.8 L213.9,132.4 L213.0,129.3 L211.9,129.1 L212.1,126.5 L210.6,124.5 L210.4,121.7 L209.7,119.4 L208.6,117.1 L207.9,116.5 L207.4,113.7 L206.3,113.8 L205.4,110.6 L204.4,108.4 L203.3,108.2 L202.9,105.3Z"/><path d="M503.3,199.8 L503.3,197.8 L504.3,194.3 L505.5,191.8 L506.5,189.0 L507.1,186.5 L507.6,184.2 L508.3,181.4 L509.0,177.8 L509.8,175.5 L509.8,172.3 L510.8,169.9 L511.9,167.5 L512.6,164.6 L513.1,162.0 L513.6,159.4 L514.5,156.9 L516.2,154.3 L516.6,151.7 L517.2,148.2 L516.8,145.5 L517.3,142.6 L519.3,139.9 L521.0,137.5 L523.0,134.7 L523.1,131.9 L523.4,128.8 L524.0,125.6 L524.5,122.7 L526.0,121.6 L528.3,119.5 L530.4,118.3 L532.4,115.5 L533.4,112.6 L535.2,110.3 L535.8,106.9 L536.5,103.5 L538.5,102.0 L541.1,101.5 L543.2,98.0 L545.0,95.0 L547.1,94.0 L549.7,92.2 L552.7,92.2 L553.3,94.5 L557.3,93.1 L560.9,93.8 L564.8,92.1 L565.2,95.2 L565.2,98.0 L564.8,100.2 L565.5,102.8 L566.7,105.7 L568.5,108.1 L572.1,106.9 L572.4,109.1 L572.6,112.0 L573.3,114.9 L574.4,116.9 L576.1,119.4 L576.4,122.5 L577.3,125.3 L576.8,127.5 L577.8,130.0 L578.9,132.3 L580.6,134.6 L582.3,136.3 L582.1,138.6 L582.2,141.0 L582.8,143.6 L583.1,146.6 L582.4,149.0 L583.0,151.3 L583.7,153.8 L584.8,156.6 L585.4,160.3 L586.4,162.3 L586.8,165.1 L586.9,168.7 L587.6,170.9 L587.5,174.5 L588.0,177.5 L589.5,179.9 L589.7,183.0 L590.6,185.1 L591.3,187.9 L592.1,191.1 L592.3,194.4 L593.0,196.7 L592.8,200.2 L590.1,199.9 L587.0,199.7 L583.6,199.8 L582.9,196.8 L582.2,194.6 L581.3,191.2 L580.9,188.6 L579.6,186.1 L578.1,183.6 L577.8,180.7 L577.7,177.6 L576.7,175.1 L576.9,173.3 L577.1,170.3 L576.5,168.1 L576.1,165.5 L576.0,163.1 L575.3,160.7 L574.5,157.8 L573.5,155.3 L572.9,153.3 L572.5,149.6 L572.1,146.6 L571.9,143.8 L571.4,140.9 L568.4,140.8 L565.6,140.8 L563.2,139.6 L562.6,136.2 L560.7,133.7 L560.2,130.1 L558.6,126.6 L557.8,123.2 L555.9,126.2 L555.0,127.8 L550.2,128.9 L547.2,126.8 L544.1,125.6 L544.0,128.8 L543.0,131.9 L542.0,135.0 L542.0,138.0 L539.5,138.5 L538.7,141.3 L538.7,144.7 L535.9,144.6 L535.6,142.2 L535.5,138.9 L535.6,136.8 L534.9,133.9 L532.9,136.8 L530.4,138.6 L529.0,141.1 L527.3,144.6 L525.9,147.2 L524.7,150.1 L524.3,152.2 L523.2,155.4 L522.3,158.1 L521.2,160.7 L520.0,163.7 L518.9,166.5 L518.0,168.4 L516.7,171.2 L516.4,173.7 L515.6,176.7 L515.2,179.2 L514.5,182.5 L513.6,184.9 L512.8,187.7 L511.9,189.6 L511.4,192.8 L510.3,195.5 L509.9,197.2 L508.9,199.9 L506.1,199.7Z"/><path d="M582.6,190.8 L582.9,193.1 L583.5,193.5 L583.4,196.4 L584.2,197.8 L584.7,199.8 L584.3,201.3 L584.7,203.0 L585.6,205.6 L585.9,207.9 L585.7,210.1 L586.4,211.9 L586.4,212.7 L586.8,215.8 L587.8,216.6 L588.0,218.0 L588.0,219.7 L588.1,222.1 L588.6,223.9 L588.4,225.5 L588.8,228.5 L589.4,230.4 L589.9,231.1 L590.1,234.6 L589.9,236.7 L590.7,237.8 L590.9,239.5 L591.9,242.7 L592.1,243.5 L592.6,246.9 L593.1,248.4 L593.7,249.8 L593.5,252.9 L594.0,253.9 L595.0,256.4 L595.3,259.2 L595.4,260.0 L595.9,262.7 L596.2,265.0 L597.3,266.9 L597.1,267.9 L597.3,270.3 L598.1,272.9 L598.5,274.4 L599.1,275.8 L598.8,278.8 L599.7,279.9 L599.8,281.7 L600.2,283.9 L600.6,286.5 L601.0,288.0 L601.3,290.3 L601.5,292.0 L602.6,294.4 L602.3,295.9 L602.6,298.8 L602.9,300.0 L603.4,302.7 L603.4,304.8 L603.8,306.9 L603.9,307.7 L604.2,310.1 L604.9,312.4 L604.7,314.2 L604.8,316.3 L605.6,318.3 L605.3,319.9 L605.5,322.3 L606.0,323.8 L606.2,325.3 L606.6,327.3 L606.3,329.6 L606.3,331.4 L607.0,333.7 L606.8,335.3 L607.3,337.2 L607.9,340.1 L607.9,342.9 L608.4,344.8 L608.8,345.8 L608.9,349.2 L613.8,348.3 L613.4,344.9 L612.8,343.9 L612.5,342.1 L612.2,339.3 L611.5,336.6 L611.3,334.6 L611.1,333.1 L610.5,330.9 L610.8,329.2 L610.4,326.9 L610.0,324.9 L609.6,323.4 L609.4,321.8 L609.3,319.5 L609.0,317.9 L609.2,315.8 L608.8,313.7 L608.8,312.0 L608.5,309.6 L608.4,307.1 L607.8,306.4 L607.9,304.2 L607.5,302.2 L607.2,299.4 L606.9,298.2 L606.4,295.3 L606.2,293.8 L605.9,291.3 L605.6,289.5 L604.9,287.3 L604.9,285.7 L604.5,283.1 L604.2,280.9 L603.2,279.3 L603.4,278.0 L602.9,275.1 L602.5,273.7 L602.4,272.2 L602.4,269.4 L601.7,267.1 L601.5,266.2 L601.3,264.1 L600.6,261.8 L600.2,259.1 L600.1,258.2 L599.9,255.4 L599.5,252.8 L598.8,251.8 L598.4,248.9 L598.2,247.4 L598.3,245.8 L597.7,242.5 L597.7,241.6 L597.2,238.4 L596.9,236.7 L596.2,235.7 L596.3,233.7 L595.7,230.4 L595.8,229.7 L595.2,227.8 L595.1,224.8 L595.5,223.2 L595.2,221.3 L594.9,218.9 L594.9,217.0 L594.3,215.6 L594.1,214.6 L594.1,211.3 L593.8,210.6 L593.2,208.8 L592.9,206.7 L592.4,204.5 L592.2,201.8 L592.5,200.1 L591.8,198.8 L591.9,196.8 L591.3,195.3 L591.8,192.3 L591.5,191.9 L591.2,189.6Z"/><path d="M602.2,300.2 L602.7,302.4 L602.8,305.4 L603.0,308.0 L603.1,311.0 L603.4,313.7 L603.8,316.3 L604.5,319.2 L604.7,322.1 L604.9,324.3 L605.6,327.5 L605.9,330.2 L606.5,332.7 L606.6,335.5 L607.0,338.2 L607.2,340.3 L607.8,343.3 L608.3,345.7 L608.7,348.0 L608.9,350.7 L609.9,353.4 L610.0,356.2 L610.6,359.2 L611.6,362.3 L612.9,364.6 L614.4,367.1 L616.1,369.8 L619.7,372.2 L621.0,375.1 L622.0,377.2 L622.7,380.3 L623.7,382.7 L625.6,384.5 L627.9,385.6 L630.7,385.7 L634.2,385.6 L637.1,385.2 L637.9,382.3 L639.0,378.6 L641.0,374.8 L641.5,372.0 L642.7,369.6 L644.0,367.6 L644.5,364.6 L645.4,361.9 L646.2,359.9 L646.8,357.1 L647.9,354.6 L648.4,352.0 L649.6,349.2 L650.3,345.9 L651.0,343.3 L651.8,340.1 L652.4,337.4 L653.5,334.6 L654.1,331.9 L654.3,329.0 L654.9,326.1 L655.8,323.0 L656.2,320.1 L657.3,317.4 L658.3,314.4 L659.8,311.4 L660.8,308.5 L661.4,306.6 L662.2,304.0 L662.5,300.1 L659.0,300.0 L656.0,299.8 L654.9,303.2 L653.5,306.4 L653.1,309.3 L652.5,312.6 L652.0,315.4 L651.6,318.2 L650.7,321.3 L649.7,324.0 L648.2,326.5 L647.0,329.4 L646.7,332.0 L646.4,335.2 L646.2,337.8 L645.8,340.5 L644.7,342.9 L644.1,346.0 L643.5,347.9 L642.7,350.6 L641.5,353.9 L640.3,357.0 L639.6,359.5 L638.8,362.3 L637.4,364.9 L636.2,367.2 L634.8,370.1 L633.6,372.4 L630.6,369.9 L629.5,372.7 L628.9,376.2 L626.0,375.1 L625.4,371.7 L623.7,369.1 L622.9,366.1 L622.3,363.6 L621.8,361.1 L621.2,358.4 L617.3,357.1 L616.2,354.3 L616.0,351.8 L614.9,349.4 L614.2,347.0 L613.9,344.1 L613.0,341.5 L612.8,338.9 L611.9,336.1 L611.8,333.2 L610.8,330.1 L610.8,327.7 L609.7,324.5 L609.7,322.0 L609.1,318.9 L608.7,316.0 L608.3,313.5 L608.5,311.0 L607.9,308.0 L607.5,305.6 L607.4,302.5 L607.3,300.0 L605.0,300.0Z"/><path d="M650.3,344.3 L650.2,341.3 L651.4,340.0 L651.5,338.5 L652.2,336.6 L652.5,334.6 L653.1,333.0 L654.2,331.0 L654.6,328.1 L654.5,326.8 L655.2,325.3 L655.7,323.4 L656.8,321.3 L657.1,319.7 L657.9,318.5 L658.1,315.8 L658.2,314.2 L658.8,312.2 L659.5,310.0 L660.0,307.8 L660.4,306.8 L661.3,303.8 L661.8,302.9 L662.2,300.6 L663.0,298.1 L663.9,296.9 L664.3,296.0 L664.4,293.8 L664.9,291.8 L665.3,289.7 L665.6,287.8 L666.0,286.0 L666.8,283.0 L667.2,281.3 L667.7,279.4 L668.2,278.0 L668.6,275.8 L669.7,273.7 L670.4,272.4 L670.6,270.0 L671.1,268.2 L671.4,267.3 L671.7,264.6 L672.3,263.4 L673.5,261.1 L673.4,258.6 L674.1,257.9 L674.7,256.5 L675.1,253.4 L675.8,252.7 L675.9,250.7 L676.8,249.0 L677.6,247.1 L677.7,245.4 L679.0,243.7 L671.0,241.4 L670.7,243.3 L670.5,245.0 L669.3,246.8 L669.4,248.8 L668.9,250.6 L668.4,251.5 L667.6,254.5 L666.8,255.8 L666.2,256.6 L665.8,258.9 L665.4,261.5 L665.5,262.8 L665.0,265.5 L663.9,266.1 L663.8,268.0 L662.7,270.3 L662.7,271.8 L662.1,274.0 L661.5,276.2 L660.6,277.4 L660.1,279.4 L660.1,281.3 L659.9,284.5 L659.0,286.3 L658.9,288.2 L658.2,290.2 L657.4,292.2 L657.1,294.3 L657.1,295.3 L656.2,296.4 L655.5,298.8 L655.6,301.3 L654.7,301.9 L654.3,305.1 L653.7,306.0 L653.5,308.3 L652.9,310.5 L652.2,312.5 L652.2,314.1 L651.9,316.9 L650.9,318.1 L650.2,319.6 L650.0,321.9 L649.3,323.7 L649.5,325.4 L648.5,326.5 L648.5,329.5 L647.6,331.5 L647.3,333.2 L646.9,335.1 L646.1,337.0 L646.0,338.5 L645.3,339.9 L645.0,342.8Z"/><path d="M660.1,275.2 L660.6,272.7 L661.6,269.7 L662.4,267.0 L663.3,264.2 L664.7,261.4 L665.4,259.2 L666.8,256.1 L667.3,254.4 L668.4,251.5 L669.0,249.4 L669.5,246.6 L671.0,243.4 L671.3,240.8 L672.2,238.1 L673.1,235.6 L674.0,232.8 L675.1,229.0 L676.8,226.5 L678.0,224.1 L679.0,220.8 L679.8,218.7 L680.4,215.7 L681.4,213.1 L682.8,211.2 L684.4,208.5 L685.1,206.8 L686.9,204.5 L687.9,202.6 L689.6,200.5 L690.6,197.8 L691.5,195.3 L691.9,193.0 L694.3,190.8 L697.1,189.2 L699.7,187.4 L701.8,185.0 L704.9,185.9 L705.6,189.1 L708.5,189.2 L711.2,191.2 L713.3,192.9 L715.1,195.0 L717.0,197.3 L718.2,199.8 L720.0,202.7 L720.9,204.8 L721.4,207.7 L722.6,210.3 L723.3,213.4 L723.8,215.6 L724.9,218.2 L725.6,221.0 L725.8,223.8 L726.6,226.9 L727.9,229.4 L728.7,231.5 L728.9,233.9 L729.2,237.0 L729.8,239.5 L730.8,241.6 L730.9,244.4 L732.1,246.3 L732.0,248.8 L732.8,251.3 L733.6,254.2 L733.9,256.6 L734.5,259.3 L735.0,261.8 L735.8,264.7 L736.1,266.8 L736.1,269.1 L736.7,272.2 L737.1,274.9 L737.5,277.2 L737.9,279.5 L738.8,282.3 L739.4,284.6 L739.3,287.0 L739.8,290.2 L736.5,289.9 L733.0,290.1 L732.8,287.0 L731.7,284.3 L732.0,282.1 L731.0,279.0 L730.7,276.6 L730.5,273.8 L729.6,271.2 L729.7,269.0 L729.1,266.2 L728.4,263.9 L727.9,261.3 L727.0,259.1 L727.1,256.3 L726.1,253.3 L725.7,251.6 L725.1,248.6 L724.7,246.0 L723.7,243.6 L723.8,241.4 L722.6,238.7 L722.4,236.0 L721.4,233.1 L721.0,231.0 L719.9,227.8 L719.0,225.7 L718.9,222.7 L717.9,220.1 L716.9,217.2 L715.8,214.7 L714.2,211.9 L713.1,208.9 L711.3,205.8 L708.7,203.3 L704.9,202.7 L703.6,205.8 L699.8,205.1 L698.0,206.8 L695.6,208.9 L694.2,211.7 L692.9,214.5 L692.1,217.4 L690.2,219.4 L688.8,222.7 L687.3,224.8 L686.1,227.1 L685.1,229.9 L683.9,233.0 L682.9,235.3 L682.2,237.9 L681.5,239.9 L680.4,242.9 L679.8,245.2 L679.0,247.7 L678.3,250.7 L677.4,253.5 L676.4,255.5 L675.3,258.9 L674.6,261.4 L673.4,263.6 L673.1,266.3 L671.9,269.4 L671.2,271.9 L670.8,274.4 L670.0,276.4 L668.9,279.6 L668.3,281.9 L667.8,284.7 L667.0,287.3 L666.0,290.0 L662.7,290.1 L660.1,289.8 L659.6,287.3 L659.7,284.0 L659.8,280.7 L659.8,277.6Z"/><path d="M728.5,261.5 L728.7,262.7 L729.0,264.0 L729.4,265.4 L729.5,266.7 L729.8,267.9 L730.1,269.4 L730.3,270.5 L730.7,271.8 L731.0,273.5 L731.2,274.8 L731.5,276.0 L731.7,277.6 L732.0,279.0 L732.3,280.5 L732.6,281.8 L732.9,283.2 L733.1,284.4 L733.4,285.8 L733.6,287.4 L734.0,288.8 L734.2,290.1 L734.4,291.6 L734.8,292.9 L734.9,294.3 L735.3,295.6 L735.6,296.8 L735.9,298.3 L736.2,299.7 L736.5,301.4 L736.6,302.7 L737.0,304.2 L737.1,305.4 L737.5,306.7 L737.7,308.1 L738.1,309.5 L738.3,311.0 L738.6,312.5 L738.9,313.9 L739.1,315.4 L739.4,316.6 L739.8,318.0 L740.0,319.3 L740.3,320.6 L740.6,322.0 L740.8,323.7 L741.1,324.9 L741.3,326.2 L741.7,327.7 L742.0,329.0 L742.3,330.7 L742.5,332.1 L742.9,333.3 L743.0,334.9 L743.4,336.0 L743.6,337.7 L744.0,338.9 L744.1,340.6 L744.4,341.9 L744.8,343.1 L745.1,344.3 L745.2,346.0 L745.5,347.5 L745.9,348.7 L746.2,350.0 L746.4,351.7 L746.6,353.0 L746.9,354.4 L747.3,355.8 L747.6,357.2 L747.8,358.7 L748.0,360.1 L748.4,361.1 L748.7,362.8 L748.9,364.3 L749.2,365.4 L749.4,367.0 L749.7,368.4 L750.0,369.6 L750.2,370.8 L750.5,372.1 L750.7,373.7 L750.9,374.9 L751.2,376.4 L751.5,377.5 L751.8,378.7 L752.0,380.1 L752.3,381.6 L752.4,383.0 L752.8,384.4 L753.0,385.9 L753.2,387.3 L753.6,388.6 L753.9,390.0 L754.1,391.4 L754.3,393.0 L754.6,394.2 L755.1,395.5 L755.3,396.9 L755.5,398.6 L755.9,399.8 L756.2,401.2 L756.5,402.6 L756.8,404.2 L757.3,405.4 L757.7,406.9 L758.0,408.4 L758.4,409.7 L758.6,411.2 L759.0,412.8 L759.5,413.9 L759.9,415.5 L760.2,416.8 L760.7,418.1 L761.1,419.7 L761.5,420.9 L761.9,422.3 L762.5,423.9 L762.7,425.1 L763.3,426.5 L763.8,427.8 L764.3,429.1 L764.7,430.3 L765.1,431.7 L765.7,433.0 L766.1,434.0 L766.5,435.6 L767.0,436.8 L767.6,438.1 L768.1,439.4 L768.5,440.7 L769.1,442.0 L769.7,443.0 L770.3,444.1 L770.9,445.4 L771.3,447.0 L772.0,447.9 L772.6,449.3 L773.1,450.5 L773.8,451.8 L774.4,453.0 L775.0,454.2 L775.6,455.4 L776.3,456.6 L777.0,457.8 L777.5,459.1 L778.2,460.6 L779.0,461.8 L779.7,463.0 L780.5,464.1 L781.1,465.4 L781.9,466.6 L782.6,467.8 L783.4,469.1 L784.2,470.3 L785.2,471.3 L785.9,472.6 L786.7,474.0 L787.6,475.0 L788.3,476.3 L789.2,477.2 L790.0,478.1 L790.7,479.4 L791.5,480.5 L792.2,481.3 L793.0,482.4 L796.9,479.4 L796.2,478.2 L795.4,477.5 L794.7,476.3 L793.9,475.2 L793.2,474.3 L792.5,473.3 L791.8,472.1 L791.0,471.1 L790.2,469.7 L789.3,468.5 L788.5,467.5 L787.8,466.3 L787.0,464.9 L786.2,463.9 L785.6,462.7 L784.9,461.4 L784.2,460.4 L783.4,459.2 L782.8,458.0 L782.2,456.6 L781.5,455.4 L780.9,454.3 L780.2,453.1 L779.7,451.9 L779.0,450.7 L778.6,449.5 L778.0,448.1 L777.3,447.0 L776.8,445.8 L776.3,444.7 L775.6,443.3 L775.2,442.0 L774.6,440.9 L774.1,439.8 L773.5,438.5 L773.1,437.3 L772.6,436.1 L772.0,434.8 L771.5,433.7 L771.0,432.2 L770.6,431.1 L770.2,429.8 L769.7,428.4 L769.2,427.3 L768.8,426.0 L768.5,424.8 L768.0,423.4 L767.6,422.3 L767.2,420.7 L766.7,419.3 L766.2,418.1 L766.0,416.6 L765.5,415.2 L765.0,414.0 L764.6,412.4 L764.4,411.3 L763.8,409.9 L763.5,408.4 L763.2,407.1 L762.9,405.6 L762.6,404.1 L762.3,402.8 L761.9,401.4 L761.6,399.9 L761.2,398.5 L761.0,397.4 L760.5,395.8 L760.3,394.4 L760.1,393.2 L759.7,391.9 L759.5,390.3 L759.2,389.0 L759.0,387.6 L758.7,386.2 L758.4,384.8 L758.1,383.3 L757.8,381.9 L757.6,380.6 L757.4,379.0 L757.2,377.7 L756.8,376.5 L756.6,375.3 L756.3,373.9 L756.1,372.7 L755.8,371.1 L755.6,369.8 L755.3,368.6 L755.2,367.3 L754.8,366.0 L754.5,364.4 L754.3,363.2 L754.1,361.7 L753.8,360.1 L753.4,359.0 L753.2,357.6 L753.0,356.2 L752.6,354.8 L752.5,353.3 L752.0,351.9 L751.8,350.6 L751.6,348.9 L751.2,347.6 L751.1,346.4 L750.7,344.9 L750.4,343.3 L750.1,342.1 L749.8,340.8 L749.7,339.4 L749.4,337.8 L749.1,336.6 L748.7,335.0 L748.5,333.8 L748.2,332.3 L747.9,331.0 L747.6,329.6 L747.3,327.9 L747.0,326.7 L746.9,325.1 L746.5,323.8 L746.2,322.6 L745.9,320.9 L745.6,319.5 L745.4,318.2 L745.1,317.0 L744.8,315.5 L744.7,314.2 L744.4,312.8 L744.1,311.4 L743.9,309.9 L743.5,308.5 L743.3,307.1 L742.9,305.6 L742.8,304.3 L742.4,303.1 L742.2,301.6 L741.9,300.3 L741.6,298.6 L741.4,297.2 L741.1,295.8 L740.9,294.5 L740.7,293.3 L740.4,291.9 L740.1,290.6 L739.9,289.1 L739.7,287.8 L739.4,286.3 L739.0,284.7 L738.9,283.3 L738.7,282.1 L738.4,280.7 L738.0,279.4 L737.8,277.9 L737.5,276.5 L737.3,274.9 L737.1,273.7 L736.8,272.4 L736.5,270.7 L736.2,269.3 L736.1,268.2 L735.9,266.7 L735.4,265.5 L735.2,264.2 L734.9,262.8 L734.8,261.5 L734.6,260.3Z"/></g>
</g>
<g font-family="Liberation Sans, Arial, sans-serif" font-size="100" fill="#000" stroke="#000" stroke-width="1.3">
<text transform="translate(94.57,26.30) scale(0.2695,0.272)" text-anchor="end">3.0</text>
<text transform="translate(94.57,139.78) scale(0.2695,0.272)" text-anchor="end">2.5</text>
<text transform="translate(94.57,253.27) scale(0.2695,0.272)" text-anchor="end">2.0</text>
<text transform="translate(94.57,366.75) scale(0.2695,0.272)" text-anchor="end">1.5</text>
<text transform="translate(94.57,480.23) scale(0.2695,0.272)" text-anchor="end">1.0</text>
<text transform="translate(94.57,593.72) scale(0.2695,0.272)" text-anchor="end">0.5</text>
<text transform="translate(94.57,707.20) scale(0.2695,0.272)" text-anchor="end">0.0</text>
<text transform="translate(110.90,738.4) scale(0.2695,0.272)" text-anchor="middle">30000</text>
<text transform="translate(247.16,738.4) scale(0.2695,0.272)" text-anchor="middle">25000</text>
<text transform="translate(383.42,738.4) scale(0.2695,0.272)" text-anchor="middle">20000</text>
<text transform="translate(519.68,738.4) scale(0.2695,0.272)" text-anchor="middle">15000</text>
<text transform="translate(655.94,738.4) scale(0.2695,0.272)" text-anchor="middle">10000</text>
<text transform="translate(792.20,738.4) scale(0.2695,0.272)" text-anchor="middle">5000</text>
</g>
<g><text transform="translate(320.80,777.60) scale(0.2837,0.3027)" font-family="Liberation Sans, Arial, sans-serif" font-size="100" fill="#000" stroke="#000" stroke-width="1.2">Wavenumber</text><text transform="translate(499.07,776.76) scale(0.2884,0.2926)" font-family="Liberation Sans, Arial, sans-serif" font-size="100" fill="#000" stroke="#000" stroke-width="1.2"> (cm</text><text transform="translate(552.39,764.60) scale(0.1532,0.1464)" font-family="Liberation Sans, Arial, sans-serif" font-size="100" fill="#000" stroke="#000" stroke-width="2.5">-1</text><text transform="translate(571.70,776.76) scale(0.2786,0.2926)" font-family="Liberation Sans, Arial, sans-serif" font-size="100" fill="#000" stroke="#000" stroke-width="1.2">)</text></g>
<text transform="translate(25.89,417.5) rotate(-90) scale(0.2860,0.3081)" font-family="Liberation Sans, Arial, sans-serif" font-size="100" fill="#000" stroke="#000" stroke-width="1.2">Absorbance</text>
<path d="M608.7,47.2 H681.7" stroke="#a20c18" stroke-width="2.2"/>
<path d="M608.7,92.1 H681.7" stroke="#10108c" stroke-width="2.3"/>
<g><text transform="translate(688.63,63.20) scale(0.3836,0.4145)" font-family="Liberation Sans, Arial, sans-serif" font-size="100" fill="#a20c18" stroke="#a20c18" stroke-width="1.5">E</text><text transform="translate(717.96,62.90) scale(0.3296,0.3141)" font-family="DejaVu Sans, Liberation Sans, sans-serif" font-size="100" fill="#a20c18" stroke="#a20c18" stroke-width="2.4">⊥</text><text transform="translate(749.01,64.00) scale(0.4227,0.4036)" font-family="Liberation Sans, Arial, sans-serif" font-size="100" fill="#a20c18" stroke="#a20c18" stroke-width="1.5">c</text></g>
<g><text transform="translate(688.72,107.90) scale(0.3727,0.4116)" font-family="Liberation Sans, Arial, sans-serif" font-size="100" fill="#10108c" stroke="#10108c" stroke-width="1.5">E</text><text transform="translate(716.44,107.90) scale(0.3100,0.3973)" font-family="Liberation Sans, Arial, sans-serif" font-size="100" fill="#10108c" stroke="#10108c" stroke-width="1.5">l</text><text transform="translate(725.48,107.90) scale(0.3200,0.3973)" font-family="Liberation Sans, Arial, sans-serif" font-size="100" fill="#10108c" stroke="#10108c" stroke-width="1.5">l</text><text transform="translate(733.51,108.09) scale(0.4227,0.4073)" font-family="Liberation Sans, Arial, sans-serif" font-size="100" fill="#10108c" stroke="#10108c" stroke-width="1.5">c</text></g>
</svg>
</body></html>
